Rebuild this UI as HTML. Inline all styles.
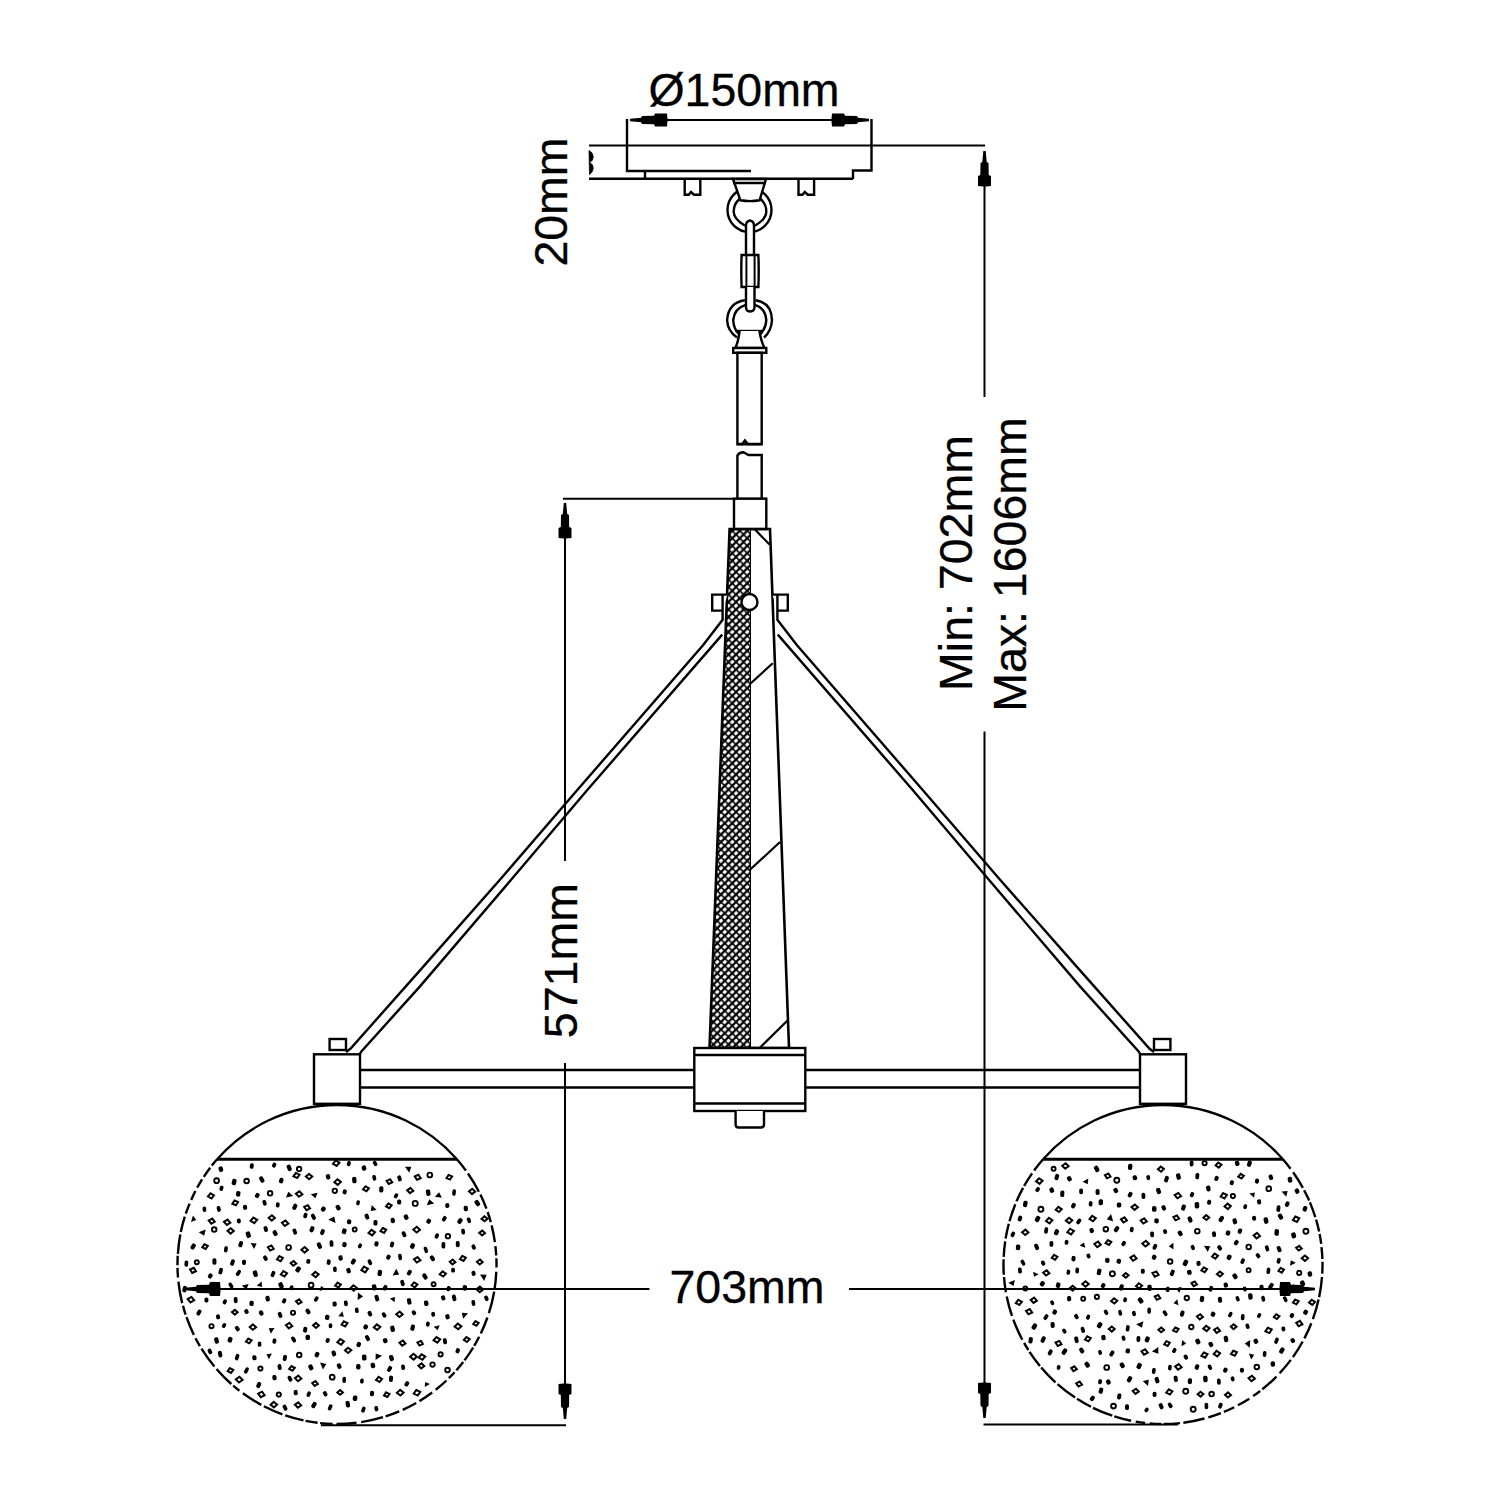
<!DOCTYPE html>
<html><head><meta charset="utf-8"><style>
html,body{margin:0;padding:0;background:#fff;}
svg{display:block;}
text{font-family:"Liberation Sans",sans-serif;font-size:46.5px;fill:#000;stroke:#000;stroke-width:0.3px;}
</style></head><body>
<svg width="1500" height="1500" viewBox="0 0 1500 1500" stroke="#000" fill="none">
<rect x="0" y="0" width="1500" height="1500" fill="#fff" stroke="none"/>
<line x1="589" y1="145.5" x2="985" y2="145.5" stroke-width="2.0"/>
<line x1="589" y1="178.8" x2="853" y2="178.8" stroke-width="2.4"/>
<path d="M627,119 V171 H751" stroke-width="2.4" fill="none" />
<path d="M871.5,119 V170.5 H853 V179" stroke-width="2.4" fill="none" />
<line x1="645" y1="171" x2="645" y2="178.8" stroke-width="2.4"/>
<path d="M589,150.5 L592,153 L593.3,156.5 L592.5,160 L590,162.5 L592.5,165 L593.3,168.5 L592,172 L589.5,174.5 Z" stroke-width="0.8" fill="#000" />
<line x1="632" y1="120" x2="868" y2="120" stroke-width="2.0"/>
<polygon points="630.0,118.8 641.0,117.8 642.0,116.0 654.0,115.8 655.0,113.5 667.0,113.5 667.5,118.5 667.5,121.5 667.0,126.5 655.0,126.5 654.0,124.2 642.0,124.0 641.0,122.2 630.0,121.2" fill="#000" stroke="none"/>
<polygon points="869.0,121.2 858.0,122.2 857.0,124.0 845.0,124.2 844.0,126.5 832.0,126.5 831.5,121.5 831.5,118.5 832.0,113.5 844.0,113.5 845.0,115.8 857.0,116.0 858.0,117.8 869.0,118.8" fill="#000" stroke="none"/>
<path d="M684.7,178.8 V194.7 H688.7 L691.0,192 L694.0,194.7 H700.3 V178.8" stroke-width="2.4" fill="none" />
<path d="M798.5,178.8 V194.7 H802.5 L804.8,192 L807.8,194.7 H814.1 V178.8" stroke-width="2.4" fill="none" />
<circle cx="749.5" cy="210" r="22" stroke-width="2.4" fill="none"/>
<path d="M739.5,199 Q733.5,204 733.7,212 Q734,219 744,225 L750,227.5 L756,225 Q766,219 766.3,212 Q766.5,204 760.5,199" stroke-width="2.4" fill="none"/>
<path d="M733,179 L740.4,200.3 Q750,202 759.6,200.3 L766,179 Z" stroke-width="2.4" fill="#fff" />
<line x1="733" y1="183" x2="766" y2="183" stroke-width="2.4"/>
<path d="M746,256 V226 Q746,221 750,220.5 Q754,221 754,226 V256" stroke-width="2.4" fill="#fff" />
<path d="M736.5,226 Q743,231 750,231 Q757,231 763.5,226" stroke-width="0" fill="none" />
<path d="M741.6,255 Q741,271 741.6,287 H758.4 Q759,271 758.4,255 Z" stroke-width="2.4" fill="#fff" />
<line x1="746.4" y1="255" x2="746.4" y2="287" stroke-width="2.0"/>
<line x1="754.6" y1="255" x2="754.6" y2="287" stroke-width="2.0"/>
<path d="M746,287 V307 Q746,311.5 750,311.5 Q754.5,311.5 754.5,307 V287" stroke-width="2.4" fill="#fff" />
<path d="M744.9,300.3 Q728.5,302.5 727.1,320 Q727.5,331 737,337.6 M755.6,300.3 Q771.5,302.5 772,320 Q771.5,331 764,337.6" stroke-width="2.4" fill="none" />
<path d="M745.8,304.8 Q734.5,308 733.2,320 Q733.5,329 739.7,335 M754.6,304.8 Q765.5,308 766.3,320 Q766,329 759.3,335" stroke-width="2.4" fill="none" />
<line x1="735.5" y1="331" x2="762" y2="331" stroke-width="2.4"/>
<path d="M739.6,331 Q738.5,341 735.4,348 H764.5 Q761,341 759.4,331" stroke-width="2.4" fill="#fff" />
<rect x="733.2" y="348" width="33.1" height="4.8" stroke-width="2.4" fill="#fff"/>
<rect x="737.4" y="352.8" width="24.3" height="91.5" stroke-width="2.4" fill="#fff"/>
<path d="M737.4,444 h5 l2.5,-3.5 l3,3.5 h13.8" stroke-width="2.4" fill="none" />
<path d="M737.4,498.7 V455.5 Q739,452.5 743.5,452.3 L748.5,455 H761.7 V498.7" stroke-width="2.4" fill="#fff" />
<line x1="563" y1="498.7" x2="766" y2="498.7" stroke-width="2.0"/>
<rect x="734" y="498.7" width="32.3" height="30.4" stroke-width="2.4" fill="#fff"/>
<defs><pattern id="kn" patternUnits="userSpaceOnUse" width="7.5" height="7.5" patternTransform="translate(1,2)">
<path d="M-1,-1 L8.5,8.5 M-1,6.5 L1,8.5 M6.5,-1 L8.5,1" stroke="#000" stroke-width="1.6"/><path d="M8.5,-1 L-1,8.5 M-1,1 L1,-1 M6.5,8.5 L8.5,6.5" stroke="#000" stroke-width="2.2"/></pattern></defs>
<polygon points="729.6,529 750.5,529 750.5,1048 709.5,1048" fill="url(#kn)" stroke="none"/>
<polygon points="729.6,529 770,529 789,1048 709.5,1048" fill="none" stroke-width="2.6"/>
<line x1="750.5" y1="529" x2="750.5" y2="1048" stroke-width="1.0"/>
<line x1="754.5" y1="529" x2="769.5" y2="544.5" stroke-width="2.2"/>
<line x1="750" y1="684" x2="772.7" y2="663.3" stroke-width="2.2"/>
<line x1="749.7" y1="870" x2="780" y2="842" stroke-width="2.2"/>
<line x1="759.6" y1="1048" x2="788" y2="1020" stroke-width="2.2"/>
<circle cx="749.5" cy="602" r="8" fill="#fff" stroke-width="2.4"/>
<path d="M727.5,594.6 H712.2 V610.6 H722.6" stroke-width="2.4" fill="#fff" />
<path d="M772.5,594.6 H787.8 V610.6 H777.4" stroke-width="2.4" fill="#fff" />
<path d="M722.6,594.6 L722.6,619.8 L703.2,645.0 L577.3,790.0 L499.7,880.0 L420.0,970.4 L350.4,1048.8 L346.0,1052.0" stroke-width="2.4" fill="none" />
<path d="M722.2,634.6 L587.3,790.0 L510.9,880.0 L420.0,986.4 L361.6,1051.2 L359.5,1054.3" stroke-width="2.4" fill="none" />
<path d="M777.4,594.6 L777.4,619.8 L796.8,645.0 L922.7,790.0 L1000.3,880.0 L1080.0,970.4 L1149.6,1048.8 L1154.0,1052.0" stroke-width="2.4" fill="none" />
<path d="M777.8,634.6 L912.7,790.0 L989.1,880.0 L1080.0,986.4 L1138.4,1051.2 L1140.5,1054.3" stroke-width="2.4" fill="none" />
<line x1="360" y1="1070" x2="694" y2="1070" stroke-width="2.4"/>
<line x1="360" y1="1087.5" x2="694" y2="1087.5" stroke-width="2.4"/>
<line x1="805" y1="1070" x2="1140" y2="1070" stroke-width="2.4"/>
<line x1="805" y1="1087.5" x2="1140" y2="1087.5" stroke-width="2.4"/>
<rect x="694.3" y="1048" width="111" height="63" stroke-width="2.4" fill="#fff"/>
<line x1="694.3" y1="1055" x2="805.3" y2="1055" stroke-width="2.4"/>
<line x1="694.3" y1="1103.5" x2="805.3" y2="1103.5" stroke-width="2.4"/>
<path d="M735.6,1111 V1124.5 q0,3 3,3 H761 q3,0 3,-3 V1111" stroke-width="2.4" fill="#fff" />
<path d="M217.1,1159.3 A159.5,159.5 0 0 1 456.9,1159.3" stroke-width="2.3" fill="none" />
<line x1="217.1" y1="1159.3" x2="456.9" y2="1159.3" stroke-width="3.0"/>
<path d="M456.9,1159.3 A159.5,159.5 0 0 1 465.9,1170.6 M468.0,1173.5 A159.5,159.5 0 0 1 478.9,1191.7 M480.4,1194.6 A159.5,159.5 0 0 1 486.4,1208.6 M487.6,1212.0 A159.5,159.5 0 0 1 490.8,1222.1 M491.6,1225.4 A159.5,159.5 0 0 1 494.9,1242.1 M495.4,1246.2 A159.5,159.5 0 0 1 496.2,1255.5 M496.4,1258.3 A159.5,159.5 0 0 1 496.5,1267.6 M496.3,1271.8 A159.5,159.5 0 0 1 494.5,1289.6 M494.2,1291.6 A159.5,159.5 0 0 1 488.9,1313.1 M487.4,1317.5 A159.5,159.5 0 0 1 480.8,1333.5 M479.2,1336.8 A159.5,159.5 0 0 1 474.2,1345.8 M473.2,1347.5 A159.5,159.5 0 0 1 464.5,1360.4 M463.2,1362.0 A159.5,159.5 0 0 1 456.4,1370.3 M454.6,1372.2 A159.5,159.5 0 0 1 448.8,1378.2 M446.5,1380.5 A159.5,159.5 0 0 1 435.7,1389.8 M432.2,1392.5 A159.5,159.5 0 0 1 419.4,1401.1 M416.2,1403.0 A159.5,159.5 0 0 1 402.7,1409.8 M399.2,1411.4 A159.5,159.5 0 0 1 385.6,1416.4 M383.0,1417.2 A159.5,159.5 0 0 1 361.2,1422.1 M356.5,1422.8 A159.5,159.5 0 0 1 336.5,1424.0 M332.6,1423.9 A159.5,159.5 0 0 1 320.1,1423.1 M317.6,1422.8 A159.5,159.5 0 0 1 305.6,1420.9 M303.5,1420.4 A159.5,159.5 0 0 1 285.2,1415.4 M282.4,1414.3 A159.5,159.5 0 0 1 263.9,1406.3 M261.3,1404.9 A159.5,159.5 0 0 1 242.9,1393.3 M239.4,1390.7 A159.5,159.5 0 0 1 233.2,1385.6 M231.3,1384.0 A159.5,159.5 0 0 1 216.5,1369.0 M214.4,1366.6 A159.5,159.5 0 0 1 201.5,1348.7 M199.9,1346.1 A159.5,159.5 0 0 1 195.5,1338.2 M193.9,1334.9 A159.5,159.5 0 0 1 186.5,1317.2 M185.6,1314.7 A159.5,159.5 0 0 1 183.0,1305.8 M182.2,1303.1 A159.5,159.5 0 0 1 178.4,1281.6 M178.0,1277.5 A159.5,159.5 0 0 1 177.5,1267.9 M177.5,1265.3 A159.5,159.5 0 0 1 177.7,1255.8 M177.9,1253.8 A159.5,159.5 0 0 1 180.3,1234.5 M180.8,1232.1 A159.5,159.5 0 0 1 184.8,1216.7 M185.8,1213.6 A159.5,159.5 0 0 1 189.6,1203.6 M191.2,1199.9 A159.5,159.5 0 0 1 195.4,1191.0 M197.2,1187.7 A159.5,159.5 0 0 1 202.1,1179.4 M203.8,1176.8 A159.5,159.5 0 0 1 210.2,1167.8 M211.8,1165.6 A159.5,159.5 0 0 1 217.1,1159.3" stroke-width="2.4" fill="none" />
<rect x="218.7" y="1166.5" width="4.3" height="5.4" rx="1.7" transform="rotate(-17 220.8 1169.2)" fill="#000" stroke="none"/>
<rect x="249.8" y="1163.2" width="3.9" height="5.6" rx="1.7" transform="rotate(7 251.7 1166.0)" fill="#000" stroke="none"/>
<rect x="272.3" y="1162.6" width="3.7" height="5.1" rx="1.7" transform="rotate(26 274.2 1165.2)" fill="#000" stroke="none"/>
<rect x="287.1" y="1164.6" width="4.2" height="6.5" rx="1.7" transform="rotate(-22 289.3 1167.8)" fill="#000" stroke="none"/>
<circle cx="299.1" cy="1168.9" r="2.2" fill="none" stroke-width="1.9"/>
<path d="M336.2,1160.4 L339.5,1163.2 L336.2,1166.0 L332.9,1163.2 Z" transform="rotate(-9 336.2 1163.2)" fill="none" stroke-width="2"/>
<rect x="347.0" y="1161.0" width="3.6" height="5.2" rx="1.7" transform="rotate(15 348.8 1163.6)" fill="#000" stroke="none"/>
<rect x="361.8" y="1165.5" width="4.4" height="5.2" rx="1.7" transform="rotate(-15 364.0 1168.1)" fill="#000" stroke="none"/>
<rect x="373.3" y="1160.7" width="3.7" height="5.5" rx="1.7" transform="rotate(-31 375.1 1163.5)" fill="#000" stroke="none"/>
<path d="M405.2,1170.6 L408.9,1165.5 L412.6,1170.6 Z" transform="rotate(55 408.9 1168.4)" fill="#000" stroke="none"/>
<circle cx="216.6" cy="1180.7" r="2.4" fill="none" stroke-width="1.9"/>
<rect x="231.9" y="1178.9" width="4.4" height="6.4" rx="1.7" transform="rotate(13 234.1 1182.1)" fill="#000" stroke="none"/>
<circle cx="246.6" cy="1181.1" r="2.3" fill="none" stroke-width="1.9"/>
<rect x="259.7" y="1176.2" width="4.1" height="6.6" rx="1.7" transform="rotate(-29 261.8 1179.4)" fill="#000" stroke="none"/>
<rect x="279.2" y="1177.8" width="4.1" height="5.6" rx="1.7" transform="rotate(16 281.3 1180.6)" fill="#000" stroke="none"/>
<path d="M296.5,1172.8 L299.6,1175.5 L296.5,1178.1 L293.3,1175.5 Z" transform="rotate(-16 296.5 1175.5)" fill="none" stroke-width="2"/>
<path d="M309.1,1173.9 L312.3,1176.6 L309.1,1179.3 L305.9,1176.6 Z" transform="rotate(-0 309.1 1176.6)" fill="none" stroke-width="2"/>
<rect x="326.0" y="1174.2" width="4.2" height="5.2" rx="1.7" transform="rotate(-14 328.1 1176.8)" fill="#000" stroke="none"/>
<path d="M337.6,1179.2 L340.9,1182.0 L337.6,1184.9 L334.3,1182.0 Z" transform="rotate(-2 337.6 1182.0)" fill="none" stroke-width="2"/>
<rect x="352.2" y="1176.9" width="4.3" height="6.4" rx="1.7" transform="rotate(-5 354.4 1180.1)" fill="#000" stroke="none"/>
<rect x="372.5" y="1175.0" width="3.6" height="5.7" rx="1.7" transform="rotate(-13 374.3 1177.9)" fill="#000" stroke="none"/>
<path d="M389.4,1179.1 L392.4,1181.6 L389.4,1184.1 L386.5,1181.6 Z" transform="rotate(16 389.4 1181.6)" fill="none" stroke-width="2"/>
<rect x="397.6" y="1175.4" width="3.9" height="5.9" rx="1.7" transform="rotate(-20 399.6 1178.4)" fill="#000" stroke="none"/>
<path d="M417.7,1174.7 L420.8,1177.3 L417.7,1179.9 L414.6,1177.3 Z" transform="rotate(17 417.7 1177.3)" fill="none" stroke-width="2"/>
<circle cx="429.8" cy="1175.0" r="2.4" fill="none" stroke-width="1.9"/>
<path d="M449.3,1174.8 L452.2,1177.3 L449.3,1179.7 L446.4,1177.3 Z" transform="rotate(-17 449.3 1177.3)" fill="none" stroke-width="2"/>
<path d="M211.0,1193.3 L214.0,1195.9 L211.0,1198.6 L207.9,1195.9 Z" transform="rotate(-11 211.0 1195.9)" fill="none" stroke-width="2"/>
<rect x="219.6" y="1185.7" width="3.7" height="5.3" rx="1.7" transform="rotate(15 221.4 1188.4)" fill="#000" stroke="none"/>
<rect x="236.1" y="1191.1" width="4.3" height="5.5" rx="1.7" transform="rotate(8 238.3 1193.8)" fill="#000" stroke="none"/>
<rect x="255.2" y="1193.0" width="4.2" height="5.0" rx="1.7" transform="rotate(30 257.3 1195.5)" fill="#000" stroke="none"/>
<circle cx="270.1" cy="1193.3" r="2.3" fill="none" stroke-width="1.9"/>
<path d="M285.4,1196.8 L289.0,1191.7 L292.7,1196.8 Z" transform="rotate(-13 289.0 1194.6)" fill="#000" stroke="none"/>
<path d="M299.1,1191.3 L302.4,1194.0 L299.1,1196.8 L295.9,1194.0 Z" transform="rotate(5 299.1 1194.0)" fill="none" stroke-width="2"/>
<path d="M311.2,1197.6 L314.7,1192.6 L318.2,1197.6 Z" transform="rotate(167 314.7 1195.5)" fill="#000" stroke="none"/>
<circle cx="334.8" cy="1190.8" r="2.2" fill="none" stroke-width="1.9"/>
<rect x="342.7" y="1189.4" width="4.0" height="4.9" rx="1.7" transform="rotate(19 344.7 1191.8)" fill="#000" stroke="none"/>
<path d="M366.0,1186.2 L369.0,1188.8 L366.0,1191.3 L363.0,1188.8 Z" transform="rotate(-11 366.0 1188.8)" fill="none" stroke-width="2"/>
<rect x="379.2" y="1186.2" width="4.2" height="6.3" rx="1.7" transform="rotate(1 381.3 1189.4)" fill="#000" stroke="none"/>
<rect x="394.2" y="1193.2" width="3.6" height="5.2" rx="1.7" transform="rotate(31 396.0 1195.8)" fill="#000" stroke="none"/>
<path d="M410.2,1187.9 L413.3,1190.6 L410.2,1193.2 L407.1,1190.6 Z" transform="rotate(5 410.2 1190.6)" fill="none" stroke-width="2"/>
<rect x="426.1" y="1189.5" width="4.3" height="6.4" rx="1.7" transform="rotate(-8 428.2 1192.7)" fill="#000" stroke="none"/>
<path d="M435.1,1197.2 L438.7,1192.2 L442.2,1197.2 Z" transform="rotate(8 438.7 1195.1)" fill="#000" stroke="none"/>
<rect x="452.3" y="1189.3" width="3.5" height="6.5" rx="1.7" transform="rotate(7 454.1 1192.6)" fill="#000" stroke="none"/>
<path d="M472.1,1188.8 L475.2,1191.5 L472.1,1194.1 L469.0,1191.5 Z" transform="rotate(2 472.1 1191.5)" fill="none" stroke-width="2"/>
<rect x="202.6" y="1206.4" width="3.6" height="5.6" rx="1.7" transform="rotate(-2 204.4 1209.1)" fill="#000" stroke="none"/>
<rect x="216.9" y="1206.0" width="3.7" height="5.9" rx="1.7" transform="rotate(-13 218.8 1209.0)" fill="#000" stroke="none"/>
<path d="M235.2,1200.3 L238.1,1202.8 L235.2,1205.3 L232.2,1202.8 Z" transform="rotate(-17 235.2 1202.8)" fill="none" stroke-width="2"/>
<rect x="243.0" y="1204.8" width="4.1" height="5.0" rx="1.7" transform="rotate(-10 245.1 1207.3)" fill="#000" stroke="none"/>
<rect x="262.7" y="1199.9" width="3.7" height="5.8" rx="1.7" transform="rotate(-17 264.6 1202.7)" fill="#000" stroke="none"/>
<rect x="275.9" y="1202.2" width="3.7" height="5.2" rx="1.7" transform="rotate(2 277.7 1204.8)" fill="#000" stroke="none"/>
<rect x="292.7" y="1203.7" width="4.1" height="6.3" rx="1.7" transform="rotate(25 294.8 1206.9)" fill="#000" stroke="none"/>
<path d="M307.1,1205.1 L310.1,1207.7 L307.1,1210.2 L304.1,1207.7 Z" transform="rotate(14 307.1 1207.7)" fill="none" stroke-width="2"/>
<rect x="321.1" y="1206.6" width="4.4" height="5.0" rx="1.7" transform="rotate(35 323.3 1209.1)" fill="#000" stroke="none"/>
<rect x="336.0" y="1204.8" width="4.3" height="5.6" rx="1.7" transform="rotate(-28 338.2 1207.6)" fill="#000" stroke="none"/>
<rect x="356.3" y="1200.2" width="3.5" height="5.2" rx="1.7" transform="rotate(13 358.1 1202.8)" fill="#000" stroke="none"/>
<path d="M369.2,1211.1 L372.7,1206.2 L376.2,1211.1 Z" transform="rotate(-135 372.7 1209.0)" fill="#000" stroke="none"/>
<path d="M388.8,1203.4 L391.7,1205.8 L388.8,1208.2 L386.0,1205.8 Z" transform="rotate(-11 388.8 1205.8)" fill="none" stroke-width="2"/>
<rect x="397.1" y="1199.5" width="4.1" height="5.1" rx="1.7" transform="rotate(1 399.1 1202.1)" fill="#000" stroke="none"/>
<circle cx="415.2" cy="1203.4" r="2.5" fill="none" stroke-width="1.9"/>
<path d="M426.2,1204.5 L430.0,1199.2 L433.8,1204.5 Z" transform="rotate(-13 430.0 1202.3)" fill="#000" stroke="none"/>
<rect x="445.3" y="1203.1" width="4.1" height="4.8" rx="1.7" transform="rotate(-5 447.4 1205.5)" fill="#000" stroke="none"/>
<rect x="463.7" y="1205.7" width="4.2" height="5.5" rx="1.7" transform="rotate(-3 465.9 1208.5)" fill="#000" stroke="none"/>
<rect x="475.1" y="1200.0" width="4.4" height="6.2" rx="1.7" transform="rotate(-34 477.3 1203.1)" fill="#000" stroke="none"/>
<path d="M190.5,1221.2 L193.8,1216.7 L197.1,1221.2 Z" transform="rotate(107 193.8 1219.3)" fill="#000" stroke="none"/>
<path d="M211.8,1218.6 L214.8,1221.2 L211.8,1223.8 L208.7,1221.2 Z" transform="rotate(11 211.8 1221.2)" fill="none" stroke-width="2"/>
<path d="M227.2,1219.5 L230.4,1222.3 L227.2,1225.0 L223.9,1222.3 Z" transform="rotate(9 227.2 1222.3)" fill="none" stroke-width="2"/>
<rect x="236.8" y="1218.6" width="4.0" height="4.8" rx="1.7" transform="rotate(-11 238.7 1221.0)" fill="#000" stroke="none"/>
<path d="M253.8,1217.5 L257.2,1220.3 L253.8,1223.2 L250.5,1220.3 Z" transform="rotate(-9 253.8 1220.3)" fill="none" stroke-width="2"/>
<path d="M271.8,1215.3 L274.9,1217.9 L271.8,1220.6 L268.7,1217.9 Z" transform="rotate(2 271.8 1217.9)" fill="none" stroke-width="2"/>
<path d="M285.1,1220.5 L288.4,1223.2 L285.1,1226.0 L281.9,1223.2 Z" transform="rotate(7 285.1 1223.2)" fill="none" stroke-width="2"/>
<rect x="303.5" y="1212.7" width="3.8" height="5.5" rx="1.7" transform="rotate(17 305.3 1215.4)" fill="#000" stroke="none"/>
<rect x="311.5" y="1213.6" width="3.8" height="6.4" rx="1.7" transform="rotate(-28 313.4 1216.8)" fill="#000" stroke="none"/>
<path d="M328.9,1221.7 L332.9,1216.1 L336.9,1221.7 Z" transform="rotate(24 332.9 1219.3)" fill="#000" stroke="none"/>
<rect x="347.0" y="1219.3" width="4.3" height="4.9" rx="1.7" transform="rotate(7 349.1 1221.7)" fill="#000" stroke="none"/>
<rect x="364.9" y="1213.6" width="4.0" height="5.9" rx="1.7" transform="rotate(-23 366.9 1216.5)" fill="#000" stroke="none"/>
<rect x="373.4" y="1220.1" width="4.1" height="5.5" rx="1.7" transform="rotate(2 375.5 1222.8)" fill="#000" stroke="none"/>
<rect x="390.7" y="1217.8" width="4.2" height="5.3" rx="1.7" transform="rotate(-15 392.8 1220.5)" fill="#000" stroke="none"/>
<rect x="404.0" y="1214.4" width="4.3" height="5.5" rx="1.7" transform="rotate(-24 406.1 1217.2)" fill="#000" stroke="none"/>
<rect x="426.5" y="1218.8" width="4.4" height="4.9" rx="1.7" transform="rotate(34 428.7 1221.2)" fill="#000" stroke="none"/>
<rect x="442.4" y="1215.8" width="3.7" height="5.7" rx="1.7" transform="rotate(33 444.2 1218.7)" fill="#000" stroke="none"/>
<rect x="457.8" y="1218.1" width="4.3" height="5.9" rx="1.7" transform="rotate(34 460.0 1221.0)" fill="#000" stroke="none"/>
<rect x="467.1" y="1217.4" width="3.6" height="5.8" rx="1.7" transform="rotate(-21 468.9 1220.2)" fill="#000" stroke="none"/>
<path d="M484.5,1216.3 L487.5,1218.8 L484.5,1221.3 L481.5,1218.8 Z" transform="rotate(-2 484.5 1218.8)" fill="none" stroke-width="2"/>
<path d="M199.2,1235.2 L203.0,1230.0 L206.7,1235.2 Z" transform="rotate(158 203.0 1233.0)" fill="#000" stroke="none"/>
<circle cx="214.2" cy="1229.6" r="2.3" fill="none" stroke-width="1.9"/>
<path d="M230.6,1228.2 L233.8,1230.9 L230.6,1233.6 L227.5,1230.9 Z" transform="rotate(2 230.6 1230.9)" fill="none" stroke-width="2"/>
<rect x="246.1" y="1231.5" width="4.5" height="6.4" rx="1.7" transform="rotate(-18 248.3 1234.8)" fill="#000" stroke="none"/>
<rect x="263.8" y="1226.1" width="3.9" height="5.9" rx="1.7" transform="rotate(-16 265.8 1229.0)" fill="#000" stroke="none"/>
<rect x="273.0" y="1230.2" width="4.2" height="5.8" rx="1.7" transform="rotate(-29 275.1 1233.1)" fill="#000" stroke="none"/>
<rect x="292.9" y="1228.6" width="3.8" height="6.1" rx="1.7" transform="rotate(-20 294.8 1231.7)" fill="#000" stroke="none"/>
<rect x="309.9" y="1226.2" width="4.1" height="6.2" rx="1.7" transform="rotate(22 312.0 1229.3)" fill="#000" stroke="none"/>
<rect x="320.5" y="1229.1" width="3.9" height="6.0" rx="1.7" transform="rotate(22 322.5 1232.1)" fill="#000" stroke="none"/>
<rect x="342.0" y="1228.5" width="4.4" height="5.6" rx="1.7" transform="rotate(17 344.2 1231.3)" fill="#000" stroke="none"/>
<circle cx="354.7" cy="1229.5" r="2.0" fill="none" stroke-width="1.9"/>
<path d="M371.8,1229.8 L375.0,1232.6 L371.8,1235.4 L368.5,1232.6 Z" transform="rotate(-7 371.8 1232.6)" fill="none" stroke-width="2"/>
<path d="M383.4,1227.9 L386.3,1230.4 L383.4,1233.0 L380.4,1230.4 Z" transform="rotate(-15 383.4 1230.4)" fill="none" stroke-width="2"/>
<rect x="402.1" y="1231.2" width="3.9" height="6.1" rx="1.7" transform="rotate(-25 404.0 1234.3)" fill="#000" stroke="none"/>
<path d="M416.7,1226.8 L420.0,1229.7 L416.7,1232.5 L413.3,1229.7 Z" transform="rotate(2 416.7 1229.7)" fill="none" stroke-width="2"/>
<rect x="434.9" y="1233.3" width="3.8" height="5.4" rx="1.7" transform="rotate(21 436.8 1236.0)" fill="#000" stroke="none"/>
<circle cx="447.9" cy="1236.2" r="2.2" fill="none" stroke-width="1.9"/>
<rect x="461.3" y="1228.7" width="3.7" height="5.8" rx="1.7" transform="rotate(-8 463.2 1231.6)" fill="#000" stroke="none"/>
<path d="M482.1,1230.6 L485.0,1233.0 L482.1,1235.5 L479.2,1233.0 Z" transform="rotate(2 482.1 1233.0)" fill="none" stroke-width="2"/>
<rect x="191.0" y="1243.4" width="4.2" height="6.2" rx="1.7" transform="rotate(33 193.1 1246.6)" fill="#000" stroke="none"/>
<path d="M205.0,1244.2 L207.9,1246.6 L205.0,1249.0 L202.2,1246.6 Z" transform="rotate(-15 205.0 1246.6)" fill="none" stroke-width="2"/>
<rect x="224.1" y="1246.3" width="3.6" height="6.1" rx="1.7" transform="rotate(9 225.9 1249.4)" fill="#000" stroke="none"/>
<rect x="238.7" y="1241.1" width="4.0" height="6.2" rx="1.7" transform="rotate(19 240.7 1244.2)" fill="#000" stroke="none"/>
<path d="M250.7,1247.0 L254.2,1242.1 L257.6,1247.0 Z" transform="rotate(60 254.2 1244.9)" fill="#000" stroke="none"/>
<path d="M270.8,1245.4 L273.8,1248.0 L270.8,1250.6 L267.8,1248.0 Z" transform="rotate(15 270.8 1248.0)" fill="none" stroke-width="2"/>
<circle cx="288.6" cy="1247.5" r="2.4" fill="none" stroke-width="1.9"/>
<path d="M304.6,1247.1 L307.8,1249.9 L304.6,1252.6 L301.4,1249.9 Z" transform="rotate(1 304.6 1249.9)" fill="none" stroke-width="2"/>
<rect x="317.3" y="1242.3" width="4.2" height="6.6" rx="1.7" transform="rotate(-25 319.4 1245.6)" fill="#000" stroke="none"/>
<rect x="329.6" y="1240.3" width="3.8" height="6.5" rx="1.7" transform="rotate(-5 331.5 1243.6)" fill="#000" stroke="none"/>
<rect x="342.3" y="1242.1" width="4.3" height="5.1" rx="1.7" transform="rotate(10 344.5 1244.7)" fill="#000" stroke="none"/>
<rect x="358.2" y="1243.4" width="3.5" height="5.0" rx="1.7" transform="rotate(29 360.0 1245.9)" fill="#000" stroke="none"/>
<rect x="374.4" y="1241.3" width="4.1" height="5.2" rx="1.7" transform="rotate(15 376.5 1243.9)" fill="#000" stroke="none"/>
<rect x="390.1" y="1241.6" width="3.8" height="5.8" rx="1.7" transform="rotate(18 392.0 1244.5)" fill="#000" stroke="none"/>
<rect x="410.3" y="1243.3" width="4.4" height="5.4" rx="1.7" transform="rotate(27 412.5 1246.0)" fill="#000" stroke="none"/>
<rect x="424.1" y="1246.6" width="3.5" height="6.5" rx="1.7" transform="rotate(-20 425.9 1249.9)" fill="#000" stroke="none"/>
<rect x="441.5" y="1242.0" width="3.8" height="6.6" rx="1.7" transform="rotate(1 443.4 1245.3)" fill="#000" stroke="none"/>
<rect x="455.8" y="1241.0" width="3.9" height="6.2" rx="1.7" transform="rotate(-2 457.8 1244.1)" fill="#000" stroke="none"/>
<rect x="471.8" y="1244.4" width="3.8" height="5.3" rx="1.7" transform="rotate(-24 473.7 1247.1)" fill="#000" stroke="none"/>
<rect x="184.5" y="1260.5" width="3.7" height="6.2" rx="1.7" transform="rotate(2 186.3 1263.6)" fill="#000" stroke="none"/>
<circle cx="196.8" cy="1262.3" r="2.0" fill="none" stroke-width="1.9"/>
<rect x="212.4" y="1258.2" width="4.0" height="6.5" rx="1.7" transform="rotate(-1 214.4 1261.4)" fill="#000" stroke="none"/>
<rect x="230.5" y="1259.3" width="3.9" height="6.5" rx="1.7" transform="rotate(20 232.4 1262.6)" fill="#000" stroke="none"/>
<rect x="242.0" y="1259.8" width="4.0" height="5.1" rx="1.7" transform="rotate(3 244.0 1262.3)" fill="#000" stroke="none"/>
<rect x="263.5" y="1255.4" width="3.8" height="5.6" rx="1.7" transform="rotate(-30 265.4 1258.2)" fill="#000" stroke="none"/>
<path d="M280.0,1256.0 L283.0,1258.6 L280.0,1261.2 L276.9,1258.6 Z" transform="rotate(-14 280.0 1258.6)" fill="none" stroke-width="2"/>
<path d="M293.4,1261.0 L296.3,1263.4 L293.4,1265.8 L290.6,1263.4 Z" transform="rotate(5 293.4 1263.4)" fill="none" stroke-width="2"/>
<rect x="306.3" y="1259.0" width="4.0" height="4.8" rx="1.7" transform="rotate(4 308.3 1261.4)" fill="#000" stroke="none"/>
<rect x="326.8" y="1259.4" width="3.8" height="5.5" rx="1.7" transform="rotate(8 328.7 1262.1)" fill="#000" stroke="none"/>
<rect x="338.5" y="1255.4" width="4.2" height="5.3" rx="1.7" transform="rotate(-8 340.6 1258.1)" fill="#000" stroke="none"/>
<rect x="351.3" y="1258.5" width="4.1" height="6.1" rx="1.7" transform="rotate(31 353.3 1261.5)" fill="#000" stroke="none"/>
<rect x="368.1" y="1259.3" width="3.6" height="6.0" rx="1.7" transform="rotate(-25 369.9 1262.3)" fill="#000" stroke="none"/>
<rect x="386.4" y="1254.7" width="4.1" height="5.0" rx="1.7" transform="rotate(24 388.4 1257.1)" fill="#000" stroke="none"/>
<rect x="398.3" y="1253.7" width="3.6" height="6.5" rx="1.7" transform="rotate(-7 400.1 1257.0)" fill="#000" stroke="none"/>
<path d="M417.2,1257.0 L420.5,1259.8 L417.2,1262.6 L413.9,1259.8 Z" transform="rotate(9 417.2 1259.8)" fill="none" stroke-width="2"/>
<rect x="430.4" y="1255.3" width="3.9" height="6.1" rx="1.7" transform="rotate(-34 432.3 1258.3)" fill="#000" stroke="none"/>
<path d="M452.6,1259.6 L455.4,1262.0 L452.6,1264.4 L449.8,1262.0 Z" transform="rotate(4 452.6 1262.0)" fill="none" stroke-width="2"/>
<path d="M462.9,1255.9 L465.9,1258.4 L462.9,1261.0 L459.9,1258.4 Z" transform="rotate(-14 462.9 1258.4)" fill="none" stroke-width="2"/>
<path d="M479.8,1259.5 L482.7,1262.0 L479.8,1264.5 L476.9,1262.0 Z" transform="rotate(4 479.8 1262.0)" fill="none" stroke-width="2"/>
<path d="M193.0,1267.7 L196.1,1270.3 L193.0,1273.0 L189.9,1270.3 Z" transform="rotate(17 193.0 1270.3)" fill="none" stroke-width="2"/>
<rect x="208.2" y="1273.3" width="4.1" height="5.2" rx="1.7" transform="rotate(31 210.2 1275.9)" fill="#000" stroke="none"/>
<rect x="218.8" y="1267.9" width="3.8" height="6.5" rx="1.7" transform="rotate(14 220.7 1271.1)" fill="#000" stroke="none"/>
<rect x="236.6" y="1269.7" width="3.6" height="6.4" rx="1.7" transform="rotate(33 238.4 1272.9)" fill="#000" stroke="none"/>
<rect x="253.1" y="1270.4" width="4.4" height="6.6" rx="1.7" transform="rotate(-16 255.3 1273.7)" fill="#000" stroke="none"/>
<rect x="271.1" y="1270.8" width="3.8" height="6.4" rx="1.7" transform="rotate(23 273.0 1274.0)" fill="#000" stroke="none"/>
<path d="M283.9,1271.1 L287.1,1273.8 L283.9,1276.4 L280.8,1273.8 Z" transform="rotate(-11 283.9 1273.8)" fill="none" stroke-width="2"/>
<rect x="295.9" y="1266.4" width="4.4" height="6.0" rx="1.7" transform="rotate(34 298.1 1269.4)" fill="#000" stroke="none"/>
<path d="M315.5,1271.9 L318.6,1274.5 L315.5,1277.2 L312.3,1274.5 Z" transform="rotate(-4 315.5 1274.5)" fill="none" stroke-width="2"/>
<rect x="333.1" y="1266.6" width="3.6" height="5.5" rx="1.7" transform="rotate(-2 334.9 1269.3)" fill="#000" stroke="none"/>
<rect x="346.5" y="1267.9" width="4.1" height="5.4" rx="1.7" transform="rotate(-17 348.6 1270.6)" fill="#000" stroke="none"/>
<path d="M364.6,1266.6 L368.0,1269.5 L364.6,1272.4 L361.3,1269.5 Z" transform="rotate(-12 364.6 1269.5)" fill="none" stroke-width="2"/>
<rect x="377.7" y="1269.9" width="4.2" height="6.2" rx="1.7" transform="rotate(9 379.8 1272.9)" fill="#000" stroke="none"/>
<path d="M392.7,1275.4 L396.5,1270.0 L400.4,1275.4 Z" transform="rotate(118 396.5 1273.1)" fill="#000" stroke="none"/>
<rect x="407.3" y="1269.8" width="4.0" height="5.7" rx="1.7" transform="rotate(28 409.3 1272.7)" fill="#000" stroke="none"/>
<rect x="422.8" y="1273.2" width="4.2" height="6.4" rx="1.7" transform="rotate(-31 425.0 1276.4)" fill="#000" stroke="none"/>
<path d="M442.9,1271.3 L446.0,1274.0 L442.9,1276.6 L439.7,1274.0 Z" transform="rotate(-7 442.9 1274.0)" fill="none" stroke-width="2"/>
<rect x="451.1" y="1267.7" width="3.9" height="4.9" rx="1.7" transform="rotate(0 453.1 1270.2)" fill="#000" stroke="none"/>
<rect x="471.6" y="1270.8" width="3.9" height="5.2" rx="1.7" transform="rotate(-14 473.6 1273.4)" fill="#000" stroke="none"/>
<path d="M480.2,1278.8 L484.0,1273.4 L487.9,1278.8 Z" transform="rotate(58 484.0 1276.5)" fill="#000" stroke="none"/>
<rect x="182.6" y="1285.9" width="4.1" height="6.4" rx="1.7" transform="rotate(17 184.6 1289.1)" fill="#000" stroke="none"/>
<rect x="195.3" y="1286.6" width="4.5" height="4.8" rx="1.7" transform="rotate(3 197.5 1289.0)" fill="#000" stroke="none"/>
<rect x="212.0" y="1281.9" width="4.4" height="6.3" rx="1.7" transform="rotate(-31 214.2 1285.1)" fill="#000" stroke="none"/>
<rect x="229.2" y="1282.3" width="3.5" height="6.4" rx="1.7" transform="rotate(-32 230.9 1285.5)" fill="#000" stroke="none"/>
<path d="M242.2,1288.7 L245.7,1283.9 L249.2,1288.7 Z" transform="rotate(167 245.7 1286.7)" fill="#000" stroke="none"/>
<path d="M257.2,1286.9 L260.4,1282.5 L263.6,1286.9 Z" transform="rotate(139 260.4 1285.0)" fill="#000" stroke="none"/>
<rect x="278.8" y="1282.2" width="4.4" height="6.6" rx="1.7" transform="rotate(-23 281.0 1285.5)" fill="#000" stroke="none"/>
<rect x="289.6" y="1285.2" width="3.6" height="5.0" rx="1.7" transform="rotate(27 291.4 1287.7)" fill="#000" stroke="none"/>
<circle cx="311.1" cy="1285.2" r="2.4" fill="none" stroke-width="1.9"/>
<path d="M318.8,1290.1 L321.8,1285.8 L324.9,1290.1 Z" transform="rotate(-19 321.8 1288.2)" fill="#000" stroke="none"/>
<path d="M338.0,1282.6 L340.9,1285.1 L338.0,1287.6 L335.1,1285.1 Z" transform="rotate(-11 338.0 1285.1)" fill="none" stroke-width="2"/>
<path d="M353.6,1285.3 L356.8,1288.0 L353.6,1290.7 L350.4,1288.0 Z" transform="rotate(-4 353.6 1288.0)" fill="none" stroke-width="2"/>
<rect x="372.1" y="1284.4" width="4.4" height="6.0" rx="1.7" transform="rotate(-14 374.3 1287.4)" fill="#000" stroke="none"/>
<rect x="383.0" y="1284.9" width="3.9" height="5.8" rx="1.7" transform="rotate(34 385.0 1287.8)" fill="#000" stroke="none"/>
<rect x="400.6" y="1279.9" width="3.8" height="6.2" rx="1.7" transform="rotate(-15 402.5 1283.0)" fill="#000" stroke="none"/>
<path d="M414.4,1282.4 L417.4,1284.9 L414.4,1287.5 L411.5,1284.9 Z" transform="rotate(-9 414.4 1284.9)" fill="none" stroke-width="2"/>
<circle cx="433.6" cy="1284.2" r="2.0" fill="none" stroke-width="1.9"/>
<rect x="446.4" y="1286.1" width="4.0" height="5.1" rx="1.7" transform="rotate(30 448.4 1288.7)" fill="#000" stroke="none"/>
<rect x="462.6" y="1285.0" width="4.3" height="5.7" rx="1.7" transform="rotate(11 464.7 1287.8)" fill="#000" stroke="none"/>
<path d="M479.8,1286.6 L483.2,1289.4 L479.8,1292.3 L476.4,1289.4 Z" transform="rotate(1 479.8 1289.4)" fill="none" stroke-width="2"/>
<path d="M190.9,1296.9 L194.2,1299.7 L190.9,1302.5 L187.6,1299.7 Z" transform="rotate(10 190.9 1299.7)" fill="none" stroke-width="2"/>
<rect x="204.4" y="1297.6" width="4.0" height="4.9" rx="1.7" transform="rotate(6 206.4 1300.1)" fill="#000" stroke="none"/>
<rect x="222.9" y="1299.3" width="3.7" height="5.1" rx="1.7" transform="rotate(26 224.8 1301.9)" fill="#000" stroke="none"/>
<rect x="233.8" y="1297.0" width="3.8" height="6.2" rx="1.7" transform="rotate(-4 235.6 1300.1)" fill="#000" stroke="none"/>
<rect x="249.4" y="1300.8" width="4.3" height="5.2" rx="1.7" transform="rotate(3 251.6 1303.4)" fill="#000" stroke="none"/>
<rect x="265.6" y="1295.8" width="4.1" height="5.7" rx="1.7" transform="rotate(-13 267.7 1298.6)" fill="#000" stroke="none"/>
<rect x="282.3" y="1298.2" width="3.7" height="5.3" rx="1.7" transform="rotate(22 284.1 1300.9)" fill="#000" stroke="none"/>
<path d="M298.8,1299.3 L301.6,1301.7 L298.8,1304.1 L295.9,1301.7 Z" transform="rotate(10 298.8 1301.7)" fill="none" stroke-width="2"/>
<rect x="314.5" y="1296.2" width="3.5" height="5.7" rx="1.7" transform="rotate(33 316.3 1299.1)" fill="#000" stroke="none"/>
<rect x="332.5" y="1301.6" width="4.2" height="4.9" rx="1.7" transform="rotate(-3 334.6 1304.0)" fill="#000" stroke="none"/>
<rect x="344.0" y="1300.5" width="3.8" height="5.6" rx="1.7" transform="rotate(-7 345.9 1303.3)" fill="#000" stroke="none"/>
<path d="M356.4,1298.7 L360.1,1293.4 L363.8,1298.7 Z" transform="rotate(92 360.1 1296.4)" fill="#000" stroke="none"/>
<rect x="374.9" y="1294.9" width="4.0" height="6.5" rx="1.7" transform="rotate(-18 376.8 1298.2)" fill="#000" stroke="none"/>
<path d="M390.4,1300.7 L393.4,1296.4 L396.5,1300.7 Z" transform="rotate(39 393.4 1298.8)" fill="#000" stroke="none"/>
<rect x="407.1" y="1298.2" width="4.2" height="6.4" rx="1.7" transform="rotate(-11 409.2 1301.3)" fill="#000" stroke="none"/>
<rect x="424.1" y="1300.5" width="4.3" height="5.5" rx="1.7" transform="rotate(-7 426.2 1303.2)" fill="#000" stroke="none"/>
<rect x="441.2" y="1295.3" width="4.0" height="5.1" rx="1.7" transform="rotate(-22 443.3 1297.9)" fill="#000" stroke="none"/>
<rect x="452.2" y="1294.6" width="3.9" height="6.6" rx="1.7" transform="rotate(-13 454.1 1297.9)" fill="#000" stroke="none"/>
<rect x="471.6" y="1300.0" width="3.6" height="6.0" rx="1.7" transform="rotate(-8 473.4 1303.1)" fill="#000" stroke="none"/>
<rect x="484.5" y="1295.6" width="3.8" height="5.5" rx="1.7" transform="rotate(-22 486.4 1298.3)" fill="#000" stroke="none"/>
<rect x="197.0" y="1309.4" width="3.9" height="6.2" rx="1.7" transform="rotate(31 198.9 1312.5)" fill="#000" stroke="none"/>
<rect x="216.1" y="1314.4" width="3.9" height="4.9" rx="1.7" transform="rotate(-12 218.0 1316.9)" fill="#000" stroke="none"/>
<path d="M234.8,1309.8 L237.6,1312.2 L234.8,1314.6 L232.0,1312.2 Z" transform="rotate(1 234.8 1312.2)" fill="none" stroke-width="2"/>
<rect x="244.4" y="1309.1" width="4.1" height="4.9" rx="1.7" transform="rotate(-24 246.4 1311.5)" fill="#000" stroke="none"/>
<rect x="259.1" y="1310.4" width="4.2" height="5.3" rx="1.7" transform="rotate(-25 261.2 1313.0)" fill="#000" stroke="none"/>
<rect x="278.2" y="1311.9" width="3.8" height="6.1" rx="1.7" transform="rotate(-21 280.1 1315.0)" fill="#000" stroke="none"/>
<circle cx="293.0" cy="1312.7" r="2.1" fill="none" stroke-width="1.9"/>
<rect x="305.9" y="1308.5" width="4.1" height="5.8" rx="1.7" transform="rotate(-33 308.0 1311.4)" fill="#000" stroke="none"/>
<rect x="325.0" y="1314.8" width="4.4" height="5.2" rx="1.7" transform="rotate(12 327.2 1317.4)" fill="#000" stroke="none"/>
<path d="M338.5,1316.9 L341.8,1312.4 L345.0,1316.9 Z" transform="rotate(129 341.8 1315.0)" fill="#000" stroke="none"/>
<rect x="355.0" y="1307.6" width="3.6" height="5.5" rx="1.7" transform="rotate(-8 356.8 1310.4)" fill="#000" stroke="none"/>
<rect x="367.9" y="1310.8" width="3.9" height="5.7" rx="1.7" transform="rotate(-24 369.9 1313.6)" fill="#000" stroke="none"/>
<rect x="382.2" y="1312.2" width="3.8" height="5.6" rx="1.7" transform="rotate(-28 384.1 1315.0)" fill="#000" stroke="none"/>
<path d="M399.5,1311.6 L402.7,1314.3 L399.5,1317.0 L396.2,1314.3 Z" transform="rotate(2 399.5 1314.3)" fill="none" stroke-width="2"/>
<rect x="412.0" y="1310.3" width="3.9" height="4.9" rx="1.7" transform="rotate(-31 413.9 1312.8)" fill="#000" stroke="none"/>
<rect x="431.3" y="1311.9" width="3.8" height="4.8" rx="1.7" transform="rotate(-12 433.2 1314.3)" fill="#000" stroke="none"/>
<rect x="445.4" y="1314.2" width="4.2" height="5.1" rx="1.7" transform="rotate(-17 447.5 1316.8)" fill="#000" stroke="none"/>
<path d="M460.4,1316.7 L464.0,1311.7 L467.6,1316.7 Z" transform="rotate(-48 464.0 1314.6)" fill="#000" stroke="none"/>
<circle cx="211.5" cy="1326.2" r="2.1" fill="none" stroke-width="1.9"/>
<rect x="222.2" y="1323.0" width="3.6" height="5.1" rx="1.7" transform="rotate(33 224.1 1325.6)" fill="#000" stroke="none"/>
<rect x="235.3" y="1325.8" width="4.0" height="5.5" rx="1.7" transform="rotate(-35 237.3 1328.6)" fill="#000" stroke="none"/>
<path d="M252.9,1324.4 L256.1,1327.1 L252.9,1329.8 L249.7,1327.1 Z" transform="rotate(2 252.9 1327.1)" fill="none" stroke-width="2"/>
<path d="M267.6,1331.8 L271.0,1327.1 L274.3,1331.8 Z" transform="rotate(-58 271.0 1329.8)" fill="#000" stroke="none"/>
<path d="M289.1,1322.9 L292.3,1325.6 L289.1,1328.4 L285.9,1325.6 Z" transform="rotate(7 289.1 1325.6)" fill="none" stroke-width="2"/>
<rect x="303.2" y="1326.8" width="4.0" height="5.8" rx="1.7" transform="rotate(9 305.2 1329.7)" fill="#000" stroke="none"/>
<path d="M316.0,1322.9 L318.9,1325.4 L316.0,1327.9 L313.0,1325.4 Z" transform="rotate(1 316.0 1325.4)" fill="none" stroke-width="2"/>
<rect x="328.7" y="1323.3" width="3.6" height="4.9" rx="1.7" transform="rotate(1 330.5 1325.7)" fill="#000" stroke="none"/>
<path d="M344.5,1321.3 L347.6,1323.9 L344.5,1326.5 L341.5,1323.9 Z" transform="rotate(-14 344.5 1323.9)" fill="none" stroke-width="2"/>
<rect x="363.5" y="1324.5" width="4.4" height="4.9" rx="1.7" transform="rotate(26 365.7 1327.0)" fill="#000" stroke="none"/>
<path d="M377.0,1324.4 L380.3,1327.2 L377.0,1329.9 L373.8,1327.2 Z" transform="rotate(-4 377.0 1327.2)" fill="none" stroke-width="2"/>
<rect x="390.4" y="1325.7" width="4.3" height="6.3" rx="1.7" transform="rotate(-12 392.5 1328.8)" fill="#000" stroke="none"/>
<rect x="410.6" y="1324.5" width="4.1" height="6.3" rx="1.7" transform="rotate(14 412.6 1327.7)" fill="#000" stroke="none"/>
<rect x="426.0" y="1321.6" width="3.7" height="5.1" rx="1.7" transform="rotate(12 427.9 1324.1)" fill="#000" stroke="none"/>
<path d="M434.0,1329.7 L437.1,1325.3 L440.2,1329.7 Z" transform="rotate(165 437.1 1327.8)" fill="#000" stroke="none"/>
<path d="M458.0,1323.6 L461.4,1326.5 L458.0,1329.3 L454.6,1326.5 Z" transform="rotate(-4 458.0 1326.5)" fill="none" stroke-width="2"/>
<path d="M475.9,1321.1 L478.7,1323.5 L475.9,1325.9 L473.1,1323.5 Z" transform="rotate(-13 475.9 1323.5)" fill="none" stroke-width="2"/>
<rect x="214.4" y="1337.3" width="4.3" height="6.3" rx="1.7" transform="rotate(-13 216.6 1340.5)" fill="#000" stroke="none"/>
<rect x="227.8" y="1337.0" width="4.5" height="5.5" rx="1.7" transform="rotate(19 230.0 1339.7)" fill="#000" stroke="none"/>
<path d="M248.8,1338.5 L251.7,1341.0 L248.8,1343.4 L245.9,1341.0 Z" transform="rotate(-12 248.8 1341.0)" fill="none" stroke-width="2"/>
<rect x="257.8" y="1341.4" width="3.6" height="5.4" rx="1.7" transform="rotate(-1 259.6 1344.1)" fill="#000" stroke="none"/>
<rect x="272.5" y="1338.5" width="3.8" height="5.2" rx="1.7" transform="rotate(9 274.4 1341.1)" fill="#000" stroke="none"/>
<rect x="291.8" y="1336.3" width="3.6" height="6.4" rx="1.7" transform="rotate(-31 293.6 1339.5)" fill="#000" stroke="none"/>
<rect x="305.5" y="1334.7" width="4.5" height="5.2" rx="1.7" transform="rotate(-1 307.7 1337.2)" fill="#000" stroke="none"/>
<rect x="325.7" y="1338.0" width="3.9" height="4.9" rx="1.7" transform="rotate(21 327.7 1340.5)" fill="#000" stroke="none"/>
<path d="M340.7,1339.0 L344.0,1341.9 L340.7,1344.7 L337.3,1341.9 Z" transform="rotate(-8 340.7 1341.9)" fill="none" stroke-width="2"/>
<rect x="356.6" y="1342.0" width="4.2" height="5.1" rx="1.7" transform="rotate(23 358.7 1344.6)" fill="#000" stroke="none"/>
<rect x="365.5" y="1334.9" width="3.9" height="6.2" rx="1.7" transform="rotate(-30 367.5 1338.0)" fill="#000" stroke="none"/>
<rect x="383.0" y="1338.3" width="4.5" height="4.8" rx="1.7" transform="rotate(-20 385.2 1340.7)" fill="#000" stroke="none"/>
<path d="M402.5,1340.5 L405.5,1343.1 L402.5,1345.7 L399.4,1343.1 Z" transform="rotate(8 402.5 1343.1)" fill="none" stroke-width="2"/>
<path d="M420.2,1340.8 L423.0,1343.2 L420.2,1345.7 L417.3,1343.2 Z" transform="rotate(17 420.2 1343.2)" fill="none" stroke-width="2"/>
<path d="M436.9,1337.0 L440.2,1339.8 L436.9,1342.7 L433.5,1339.8 Z" transform="rotate(-9 436.9 1339.8)" fill="none" stroke-width="2"/>
<rect x="443.0" y="1338.2" width="3.9" height="6.0" rx="1.7" transform="rotate(-8 444.9 1341.2)" fill="#000" stroke="none"/>
<path d="M466.7,1337.0 L469.7,1339.5 L466.7,1342.0 L463.8,1339.5 Z" transform="rotate(-5 466.7 1339.5)" fill="none" stroke-width="2"/>
<rect x="208.0" y="1348.7" width="3.9" height="5.6" rx="1.7" transform="rotate(-25 209.9 1351.5)" fill="#000" stroke="none"/>
<rect x="218.1" y="1350.9" width="4.0" height="6.5" rx="1.7" transform="rotate(-12 220.1 1354.1)" fill="#000" stroke="none"/>
<rect x="235.3" y="1353.8" width="3.6" height="6.6" rx="1.7" transform="rotate(18 237.1 1357.1)" fill="#000" stroke="none"/>
<rect x="252.3" y="1355.2" width="4.2" height="5.1" rx="1.7" transform="rotate(-6 254.4 1357.8)" fill="#000" stroke="none"/>
<path d="M265.5,1357.4 L268.7,1353.0 L271.9,1357.4 Z" transform="rotate(-62 268.7 1355.5)" fill="#000" stroke="none"/>
<rect x="282.9" y="1355.0" width="3.9" height="6.0" rx="1.7" transform="rotate(9 284.9 1358.0)" fill="#000" stroke="none"/>
<circle cx="299.2" cy="1355.0" r="2.3" fill="none" stroke-width="1.9"/>
<rect x="314.9" y="1351.8" width="4.2" height="5.6" rx="1.7" transform="rotate(24 317.0 1354.6)" fill="#000" stroke="none"/>
<rect x="331.8" y="1350.5" width="4.1" height="5.8" rx="1.7" transform="rotate(-19 333.8 1353.4)" fill="#000" stroke="none"/>
<path d="M348.1,1347.7 L351.3,1350.3 L348.1,1353.0 L345.0,1350.3 Z" transform="rotate(-2 348.1 1350.3)" fill="none" stroke-width="2"/>
<rect x="362.0" y="1354.5" width="4.5" height="6.1" rx="1.7" transform="rotate(-2 364.3 1357.5)" fill="#000" stroke="none"/>
<path d="M373.6,1358.3 L377.5,1352.9 L381.4,1358.3 Z" transform="rotate(-34 377.5 1356.0)" fill="#000" stroke="none"/>
<rect x="389.3" y="1355.0" width="4.3" height="6.0" rx="1.7" transform="rotate(-19 391.5 1358.0)" fill="#000" stroke="none"/>
<path d="M413.5,1353.8 L416.9,1356.7 L413.5,1359.6 L410.1,1356.7 Z" transform="rotate(0 413.5 1356.7)" fill="none" stroke-width="2"/>
<path d="M422.0,1354.3 L425.3,1357.1 L422.0,1359.8 L418.7,1357.1 Z" transform="rotate(-9 422.0 1357.1)" fill="none" stroke-width="2"/>
<circle cx="440.6" cy="1354.4" r="2.1" fill="none" stroke-width="1.9"/>
<rect x="455.7" y="1348.1" width="4.0" height="5.2" rx="1.7" transform="rotate(20 457.6 1350.7)" fill="#000" stroke="none"/>
<path d="M230.5,1368.0 L233.4,1370.5 L230.5,1373.0 L227.6,1370.5 Z" transform="rotate(-13 230.5 1370.5)" fill="none" stroke-width="2"/>
<rect x="244.6" y="1367.1" width="3.6" height="6.6" rx="1.7" transform="rotate(28 246.4 1370.4)" fill="#000" stroke="none"/>
<circle cx="260.4" cy="1368.6" r="2.1" fill="none" stroke-width="1.9"/>
<rect x="277.7" y="1364.1" width="3.8" height="5.9" rx="1.7" transform="rotate(-11 279.6 1367.0)" fill="#000" stroke="none"/>
<path d="M292.0,1366.0 L294.9,1368.4 L292.0,1370.8 L289.1,1368.4 Z" transform="rotate(-11 292.0 1368.4)" fill="none" stroke-width="2"/>
<rect x="308.6" y="1364.4" width="4.4" height="5.9" rx="1.7" transform="rotate(-27 310.8 1367.3)" fill="#000" stroke="none"/>
<path d="M319.9,1367.4 L323.6,1362.2 L327.3,1367.4 Z" transform="rotate(67 323.6 1365.1)" fill="#000" stroke="none"/>
<rect x="337.1" y="1363.3" width="4.1" height="5.6" rx="1.7" transform="rotate(-25 339.1 1366.1)" fill="#000" stroke="none"/>
<rect x="356.1" y="1364.1" width="4.4" height="5.4" rx="1.7" transform="rotate(0 358.3 1366.8)" fill="#000" stroke="none"/>
<rect x="370.7" y="1362.8" width="4.4" height="5.3" rx="1.7" transform="rotate(-15 372.9 1365.5)" fill="#000" stroke="none"/>
<rect x="387.6" y="1365.9" width="3.9" height="6.1" rx="1.7" transform="rotate(30 389.6 1369.0)" fill="#000" stroke="none"/>
<rect x="401.2" y="1364.4" width="3.8" height="5.6" rx="1.7" transform="rotate(-6 403.1 1367.2)" fill="#000" stroke="none"/>
<path d="M421.4,1363.4 L424.3,1365.9 L421.4,1368.4 L418.4,1365.9 Z" transform="rotate(6 421.4 1365.9)" fill="none" stroke-width="2"/>
<circle cx="432.5" cy="1364.6" r="2.2" fill="none" stroke-width="1.9"/>
<circle cx="447.5" cy="1370.1" r="2.3" fill="none" stroke-width="1.9"/>
<path d="M239.2,1376.7 L242.6,1379.6 L239.2,1382.5 L235.8,1379.6 Z" transform="rotate(4 239.2 1379.6)" fill="none" stroke-width="2"/>
<rect x="256.7" y="1382.0" width="4.1" height="6.1" rx="1.7" transform="rotate(23 258.8 1385.0)" fill="#000" stroke="none"/>
<rect x="272.4" y="1375.0" width="4.2" height="5.2" rx="1.7" transform="rotate(-7 274.5 1377.6)" fill="#000" stroke="none"/>
<rect x="288.0" y="1375.7" width="3.9" height="6.1" rx="1.7" transform="rotate(-25 289.9 1378.7)" fill="#000" stroke="none"/>
<path d="M298.2,1375.6 L301.4,1378.4 L298.2,1381.2 L294.9,1378.4 Z" transform="rotate(4 298.2 1378.4)" fill="none" stroke-width="2"/>
<path d="M315.0,1381.1 L317.9,1383.5 L315.0,1386.0 L312.2,1383.5 Z" transform="rotate(10 315.0 1383.5)" fill="none" stroke-width="2"/>
<circle cx="332.2" cy="1377.2" r="2.4" fill="none" stroke-width="1.9"/>
<rect x="342.4" y="1376.8" width="3.6" height="6.2" rx="1.7" transform="rotate(2 344.2 1379.9)" fill="#000" stroke="none"/>
<rect x="360.1" y="1378.6" width="3.6" height="5.0" rx="1.7" transform="rotate(5 361.9 1381.1)" fill="#000" stroke="none"/>
<path d="M379.1,1376.8 L382.1,1379.4 L379.1,1382.0 L376.0,1379.4 Z" transform="rotate(-9 379.1 1379.4)" fill="none" stroke-width="2"/>
<rect x="389.0" y="1375.6" width="4.0" height="6.3" rx="1.7" transform="rotate(4 390.9 1378.8)" fill="#000" stroke="none"/>
<rect x="404.8" y="1381.1" width="4.0" height="5.5" rx="1.7" transform="rotate(33 406.8 1383.9)" fill="#000" stroke="none"/>
<path d="M423.4,1385.8 L426.4,1381.6 L429.4,1385.8 Z" transform="rotate(-30 426.4 1384.0)" fill="#000" stroke="none"/>
<path d="M261.4,1391.6 L264.7,1394.5 L261.4,1397.3 L258.0,1394.5 Z" transform="rotate(14 261.4 1394.5)" fill="none" stroke-width="2"/>
<circle cx="278.8" cy="1394.6" r="2.1" fill="none" stroke-width="1.9"/>
<rect x="293.7" y="1389.9" width="4.0" height="5.4" rx="1.7" transform="rotate(-5 295.7 1392.6)" fill="#000" stroke="none"/>
<rect x="306.9" y="1391.3" width="3.6" height="5.8" rx="1.7" transform="rotate(23 308.7 1394.2)" fill="#000" stroke="none"/>
<rect x="323.2" y="1391.1" width="3.9" height="5.4" rx="1.7" transform="rotate(-28 325.1 1393.7)" fill="#000" stroke="none"/>
<path d="M340.1,1390.0 L342.9,1392.4 L340.1,1394.8 L337.3,1392.4 Z" transform="rotate(-0 340.1 1392.4)" fill="none" stroke-width="2"/>
<rect x="352.8" y="1395.5" width="4.5" height="5.5" rx="1.7" transform="rotate(7 355.0 1398.3)" fill="#000" stroke="none"/>
<rect x="370.0" y="1390.8" width="4.1" height="5.4" rx="1.7" transform="rotate(8 372.0 1393.5)" fill="#000" stroke="none"/>
<path d="M386.7,1392.2 L389.6,1394.7 L386.7,1397.1 L383.9,1394.7 Z" transform="rotate(-16 386.7 1394.7)" fill="none" stroke-width="2"/>
<path d="M400.3,1389.9 L403.6,1392.7 L400.3,1395.5 L396.9,1392.7 Z" transform="rotate(-3 400.3 1392.7)" fill="none" stroke-width="2"/>
<path d="M417.0,1389.9 L420.4,1392.8 L417.0,1395.7 L413.6,1392.8 Z" transform="rotate(-15 417.0 1392.8)" fill="none" stroke-width="2"/>
<path d="M273.8,1401.9 L277.1,1404.6 L273.8,1407.4 L270.6,1404.6 Z" transform="rotate(-2 273.8 1404.6)" fill="none" stroke-width="2"/>
<rect x="283.1" y="1404.6" width="3.8" height="6.1" rx="1.7" transform="rotate(-27 285.0 1407.6)" fill="#000" stroke="none"/>
<path d="M298.1,1402.3 L301.2,1405.0 L298.1,1407.6 L294.9,1405.0 Z" transform="rotate(6 298.1 1405.0)" fill="none" stroke-width="2"/>
<rect x="311.9" y="1401.7" width="4.1" height="6.5" rx="1.7" transform="rotate(32 313.9 1405.0)" fill="#000" stroke="none"/>
<rect x="328.4" y="1404.2" width="3.6" height="6.4" rx="1.7" transform="rotate(24 330.2 1407.3)" fill="#000" stroke="none"/>
<rect x="345.7" y="1401.0" width="4.2" height="6.5" rx="1.7" transform="rotate(-9 347.8 1404.3)" fill="#000" stroke="none"/>
<rect x="361.6" y="1406.5" width="3.6" height="6.1" rx="1.7" transform="rotate(20 363.4 1409.5)" fill="#000" stroke="none"/>
<rect x="374.5" y="1406.0" width="3.7" height="5.4" rx="1.7" transform="rotate(-11 376.3 1408.7)" fill="#000" stroke="none"/>
<path d="M1043.1,1159.3 A159.5,159.5 0 0 1 1282.9,1159.3" stroke-width="2.3" fill="none" />
<line x1="1043.1" y1="1159.3" x2="1282.9" y2="1159.3" stroke-width="3.0"/>
<path d="M1282.9,1159.3 A159.5,159.5 0 0 1 1290.5,1168.7 M1293.1,1172.3 A159.5,159.5 0 0 1 1302.9,1187.9 M1304.1,1190.2 A159.5,159.5 0 0 1 1309.2,1200.6 M1309.9,1202.4 A159.5,159.5 0 0 1 1315.3,1217.2 M1316.1,1219.7 A159.5,159.5 0 0 1 1319.1,1231.5 M1319.6,1234.1 A159.5,159.5 0 0 1 1321.2,1243.8 M1321.5,1247.1 A159.5,159.5 0 0 1 1322.4,1259.0 M1322.5,1261.7 A159.5,159.5 0 0 1 1322.2,1273.7 M1322.0,1277.0 A159.5,159.5 0 0 1 1319.1,1297.3 M1318.6,1299.6 A159.5,159.5 0 0 1 1312.9,1319.1 M1311.3,1323.2 A159.5,159.5 0 0 1 1304.4,1338.4 M1302.7,1341.5 A159.5,159.5 0 0 1 1292.9,1357.1 M1290.8,1359.9 A159.5,159.5 0 0 1 1279.6,1373.3 M1276.5,1376.6 A159.5,159.5 0 0 1 1262.3,1389.3 M1260.2,1391.0 A159.5,159.5 0 0 1 1253.1,1396.1 M1249.3,1398.7 A159.5,159.5 0 0 1 1237.9,1405.3 M1234.2,1407.2 A159.5,159.5 0 0 1 1223.9,1411.9 M1220.9,1413.1 A159.5,159.5 0 0 1 1208.3,1417.4 M1204.5,1418.5 A159.5,159.5 0 0 1 1183.4,1422.7 M1180.0,1423.1 A159.5,159.5 0 0 1 1164.0,1424.0 M1161.1,1424.0 A159.5,159.5 0 0 1 1149.8,1423.4 M1145.1,1423.0 A159.5,159.5 0 0 1 1135.7,1421.6 M1131.1,1420.8 A159.5,159.5 0 0 1 1114.3,1416.4 M1112.3,1415.7 A159.5,159.5 0 0 1 1093.0,1407.8 M1091.0,1406.8 A159.5,159.5 0 0 1 1077.0,1398.8 M1075.1,1397.6 A159.5,159.5 0 0 1 1057.5,1384.1 M1055.4,1382.3 A159.5,159.5 0 0 1 1041.2,1367.5 M1039.9,1365.9 A159.5,159.5 0 0 1 1029.5,1351.8 M1028.4,1350.0 A159.5,159.5 0 0 1 1024.1,1342.8 M1022.3,1339.7 A159.5,159.5 0 0 1 1013.3,1319.6 M1012.0,1315.9 A159.5,159.5 0 0 1 1006.7,1296.4 M1005.9,1292.3 A159.5,159.5 0 0 1 1004.0,1277.0 M1003.8,1274.8 A159.5,159.5 0 0 1 1003.6,1259.3 M1003.7,1256.9 A159.5,159.5 0 0 1 1005.2,1241.4 M1005.6,1238.5 A159.5,159.5 0 0 1 1008.8,1223.7 M1009.5,1221.3 A159.5,159.5 0 0 1 1015.3,1204.2 M1016.5,1201.3 A159.5,159.5 0 0 1 1023.1,1187.9 M1024.1,1186.0 A159.5,159.5 0 0 1 1032.1,1173.4 M1034.1,1170.5 A159.5,159.5 0 0 1 1043.1,1159.3" stroke-width="2.4" fill="none" />
<circle cx="1053.6" cy="1168.7" r="2.0" fill="none" stroke-width="1.9"/>
<path d="M1065.4,1163.3 L1068.6,1166.0 L1065.4,1168.7 L1062.2,1166.0 Z" transform="rotate(4 1065.4 1166.0)" fill="none" stroke-width="2"/>
<rect x="1094.5" y="1165.7" width="4.4" height="6.5" rx="1.7" transform="rotate(-27 1096.7 1169.0)" fill="#000" stroke="none"/>
<rect x="1128.0" y="1163.7" width="4.3" height="6.3" rx="1.7" transform="rotate(6 1130.1 1166.8)" fill="#000" stroke="none"/>
<path d="M1160.9,1166.6 L1163.9,1169.1 L1160.9,1171.7 L1157.9,1169.1 Z" transform="rotate(-3 1160.9 1169.1)" fill="none" stroke-width="2"/>
<rect x="1189.7" y="1160.4" width="3.8" height="6.0" rx="1.7" transform="rotate(2 1191.7 1163.4)" fill="#000" stroke="none"/>
<circle cx="1204.6" cy="1163.2" r="2.1" fill="none" stroke-width="1.9"/>
<path d="M1218.5,1162.6 L1221.5,1165.1 L1218.5,1167.6 L1215.6,1165.1 Z" transform="rotate(-6 1218.5 1165.1)" fill="none" stroke-width="2"/>
<rect x="1235.0" y="1160.8" width="4.4" height="5.1" rx="1.7" transform="rotate(-17 1237.2 1163.4)" fill="#000" stroke="none"/>
<rect x="1247.3" y="1160.6" width="4.2" height="6.2" rx="1.7" transform="rotate(16 1249.4 1163.7)" fill="#000" stroke="none"/>
<path d="M1039.3,1178.3 L1042.6,1181.1 L1039.3,1183.9 L1036.1,1181.1 Z" transform="rotate(-6 1039.3 1181.1)" fill="none" stroke-width="2"/>
<rect x="1054.8" y="1173.9" width="4.0" height="6.3" rx="1.7" transform="rotate(17 1056.8 1177.1)" fill="#000" stroke="none"/>
<rect x="1067.2" y="1176.2" width="4.4" height="5.1" rx="1.7" transform="rotate(-30 1069.4 1178.8)" fill="#000" stroke="none"/>
<path d="M1083.1,1183.8 L1086.4,1179.1 L1089.7,1183.8 Z" transform="rotate(151 1086.4 1181.8)" fill="#000" stroke="none"/>
<path d="M1107.7,1173.4 L1110.6,1175.9 L1107.7,1178.4 L1104.8,1175.9 Z" transform="rotate(16 1107.7 1175.9)" fill="none" stroke-width="2"/>
<circle cx="1116.8" cy="1180.2" r="2.5" fill="none" stroke-width="1.9"/>
<rect x="1132.7" y="1175.3" width="4.4" height="4.9" rx="1.7" transform="rotate(-16 1134.9 1177.8)" fill="#000" stroke="none"/>
<rect x="1146.4" y="1175.1" width="3.7" height="5.0" rx="1.7" transform="rotate(-14 1148.2 1177.6)" fill="#000" stroke="none"/>
<rect x="1164.5" y="1175.9" width="4.0" height="6.5" rx="1.7" transform="rotate(18 1166.5 1179.1)" fill="#000" stroke="none"/>
<rect x="1176.3" y="1173.3" width="4.3" height="6.5" rx="1.7" transform="rotate(-13 1178.4 1176.6)" fill="#000" stroke="none"/>
<rect x="1195.4" y="1173.0" width="3.8" height="6.2" rx="1.7" transform="rotate(5 1197.3 1176.1)" fill="#000" stroke="none"/>
<rect x="1214.5" y="1175.9" width="4.0" height="5.1" rx="1.7" transform="rotate(24 1216.5 1178.5)" fill="#000" stroke="none"/>
<rect x="1229.9" y="1180.2" width="3.9" height="4.9" rx="1.7" transform="rotate(18 1231.8 1182.6)" fill="#000" stroke="none"/>
<path d="M1241.1,1173.8 L1243.9,1176.2 L1241.1,1178.6 L1238.2,1176.2 Z" transform="rotate(-10 1241.1 1176.2)" fill="none" stroke-width="2"/>
<rect x="1255.0" y="1178.6" width="4.0" height="5.1" rx="1.7" transform="rotate(11 1257.0 1181.2)" fill="#000" stroke="none"/>
<rect x="1268.8" y="1174.5" width="4.1" height="5.5" rx="1.7" transform="rotate(-17 1270.9 1177.2)" fill="#000" stroke="none"/>
<rect x="1287.8" y="1176.9" width="4.4" height="5.8" rx="1.7" transform="rotate(-10 1290.0 1179.8)" fill="#000" stroke="none"/>
<rect x="1035.7" y="1187.0" width="3.8" height="5.1" rx="1.7" transform="rotate(34 1037.6 1189.6)" fill="#000" stroke="none"/>
<rect x="1049.6" y="1187.5" width="4.4" height="5.3" rx="1.7" transform="rotate(-24 1051.8 1190.2)" fill="#000" stroke="none"/>
<rect x="1060.3" y="1190.5" width="4.0" height="6.5" rx="1.7" transform="rotate(4 1062.3 1193.8)" fill="#000" stroke="none"/>
<rect x="1079.2" y="1188.4" width="3.8" height="5.8" rx="1.7" transform="rotate(-0 1081.1 1191.3)" fill="#000" stroke="none"/>
<rect x="1095.6" y="1189.0" width="4.0" height="6.0" rx="1.7" transform="rotate(-0 1097.6 1192.0)" fill="#000" stroke="none"/>
<rect x="1113.6" y="1187.9" width="4.3" height="5.2" rx="1.7" transform="rotate(-29 1115.8 1190.5)" fill="#000" stroke="none"/>
<rect x="1128.1" y="1191.9" width="4.0" height="5.6" rx="1.7" transform="rotate(28 1130.1 1194.7)" fill="#000" stroke="none"/>
<rect x="1141.5" y="1192.7" width="3.8" height="6.3" rx="1.7" transform="rotate(-1 1143.4 1195.8)" fill="#000" stroke="none"/>
<rect x="1156.4" y="1187.9" width="4.3" height="6.2" rx="1.7" transform="rotate(-20 1158.5 1191.0)" fill="#000" stroke="none"/>
<path d="M1177.8,1192.9 L1181.1,1195.6 L1177.8,1198.3 L1174.6,1195.6 Z" transform="rotate(10 1177.8 1195.6)" fill="none" stroke-width="2"/>
<rect x="1190.1" y="1192.1" width="3.8" height="5.2" rx="1.7" transform="rotate(22 1192.0 1194.7)" fill="#000" stroke="none"/>
<rect x="1206.2" y="1185.5" width="4.3" height="5.9" rx="1.7" transform="rotate(-11 1208.4 1188.5)" fill="#000" stroke="none"/>
<path d="M1223.8,1193.0 L1227.0,1195.7 L1223.8,1198.5 L1220.6,1195.7 Z" transform="rotate(-15 1223.8 1195.7)" fill="none" stroke-width="2"/>
<circle cx="1232.9" cy="1196.1" r="2.1" fill="none" stroke-width="1.9"/>
<path d="M1249.9,1196.2 L1253.1,1191.8 L1256.2,1196.2 Z" transform="rotate(43 1253.1 1194.3)" fill="#000" stroke="none"/>
<circle cx="1268.8" cy="1188.7" r="2.4" fill="none" stroke-width="1.9"/>
<path d="M1282.0,1194.9 L1285.5,1190.0 L1289.0,1194.9 Z" transform="rotate(49 1285.5 1192.8)" fill="#000" stroke="none"/>
<rect x="1294.9" y="1188.5" width="4.3" height="5.2" rx="1.7" transform="rotate(-24 1297.1 1191.1)" fill="#000" stroke="none"/>
<rect x="1023.2" y="1200.7" width="4.2" height="6.5" rx="1.7" transform="rotate(10 1025.3 1203.9)" fill="#000" stroke="none"/>
<circle cx="1040.9" cy="1209.2" r="2.5" fill="none" stroke-width="1.9"/>
<path d="M1058.7,1206.9 L1061.7,1209.5 L1058.7,1212.0 L1055.7,1209.5 Z" transform="rotate(-6 1058.7 1209.5)" fill="none" stroke-width="2"/>
<rect x="1071.4" y="1202.8" width="4.0" height="5.7" rx="1.7" transform="rotate(25 1073.4 1205.7)" fill="#000" stroke="none"/>
<rect x="1088.8" y="1201.1" width="3.7" height="5.4" rx="1.7" transform="rotate(6 1090.7 1203.8)" fill="#000" stroke="none"/>
<rect x="1098.6" y="1199.2" width="4.4" height="6.0" rx="1.7" transform="rotate(2 1100.8 1202.2)" fill="#000" stroke="none"/>
<rect x="1116.8" y="1202.5" width="4.5" height="5.0" rx="1.7" transform="rotate(-2 1119.1 1205.0)" fill="#000" stroke="none"/>
<path d="M1134.7,1204.5 L1137.9,1207.2 L1134.7,1209.9 L1131.5,1207.2 Z" transform="rotate(2 1134.7 1207.2)" fill="none" stroke-width="2"/>
<rect x="1152.0" y="1206.1" width="4.5" height="5.7" rx="1.7" transform="rotate(3 1154.3 1209.0)" fill="#000" stroke="none"/>
<rect x="1161.7" y="1205.2" width="4.1" height="5.3" rx="1.7" transform="rotate(-24 1163.8 1207.9)" fill="#000" stroke="none"/>
<rect x="1181.4" y="1204.5" width="4.1" height="6.1" rx="1.7" transform="rotate(19 1183.5 1207.6)" fill="#000" stroke="none"/>
<rect x="1194.7" y="1202.0" width="4.5" height="6.4" rx="1.7" transform="rotate(-2 1196.9 1205.2)" fill="#000" stroke="none"/>
<rect x="1207.2" y="1199.8" width="3.9" height="5.0" rx="1.7" transform="rotate(14 1209.2 1202.3)" fill="#000" stroke="none"/>
<path d="M1227.7,1203.6 L1230.8,1206.3 L1227.7,1209.1 L1224.5,1206.3 Z" transform="rotate(-3 1227.7 1206.3)" fill="none" stroke-width="2"/>
<rect x="1243.4" y="1204.2" width="3.6" height="4.9" rx="1.7" transform="rotate(15 1245.2 1206.7)" fill="#000" stroke="none"/>
<rect x="1257.1" y="1199.4" width="4.0" height="5.0" rx="1.7" transform="rotate(-8 1259.0 1201.9)" fill="#000" stroke="none"/>
<rect x="1276.5" y="1205.3" width="3.8" height="6.6" rx="1.7" transform="rotate(6 1278.4 1208.6)" fill="#000" stroke="none"/>
<rect x="1285.2" y="1201.4" width="4.0" height="5.5" rx="1.7" transform="rotate(26 1287.2 1204.2)" fill="#000" stroke="none"/>
<rect x="1302.8" y="1206.0" width="4.2" height="5.6" rx="1.7" transform="rotate(20 1304.9 1208.9)" fill="#000" stroke="none"/>
<rect x="1018.0" y="1215.7" width="4.0" height="5.7" rx="1.7" transform="rotate(19 1020.0 1218.5)" fill="#000" stroke="none"/>
<rect x="1035.3" y="1215.8" width="4.5" height="6.2" rx="1.7" transform="rotate(28 1037.5 1218.9)" fill="#000" stroke="none"/>
<path d="M1049.2,1217.9 L1052.4,1220.6 L1049.2,1223.4 L1046.0,1220.6 Z" transform="rotate(-7 1049.2 1220.6)" fill="none" stroke-width="2"/>
<path d="M1069.1,1217.8 L1072.3,1220.5 L1069.1,1223.2 L1065.9,1220.5 Z" transform="rotate(-2 1069.1 1220.5)" fill="none" stroke-width="2"/>
<rect x="1076.9" y="1218.4" width="3.8" height="6.1" rx="1.7" transform="rotate(34 1078.8 1221.4)" fill="#000" stroke="none"/>
<path d="M1092.6,1215.9 L1095.8,1218.6 L1092.6,1221.3 L1089.5,1218.6 Z" transform="rotate(-8 1092.6 1218.6)" fill="none" stroke-width="2"/>
<path d="M1105.9,1220.8 L1109.8,1215.3 L1113.7,1220.8 Z" transform="rotate(-106 1109.8 1218.4)" fill="#000" stroke="none"/>
<path d="M1124.0,1217.3 L1127.0,1219.9 L1124.0,1222.5 L1120.9,1219.9 Z" transform="rotate(12 1124.0 1219.9)" fill="none" stroke-width="2"/>
<path d="M1143.7,1218.3 L1146.9,1220.9 L1143.7,1223.6 L1140.6,1220.9 Z" transform="rotate(9 1143.7 1220.9)" fill="none" stroke-width="2"/>
<rect x="1154.3" y="1218.4" width="4.5" height="5.0" rx="1.7" transform="rotate(3 1156.5 1220.9)" fill="#000" stroke="none"/>
<path d="M1176.2,1215.3 L1179.2,1217.8 L1176.2,1220.4 L1173.3,1217.8 Z" transform="rotate(16 1176.2 1217.8)" fill="none" stroke-width="2"/>
<rect x="1188.0" y="1216.3" width="4.1" height="6.4" rx="1.7" transform="rotate(-23 1190.0 1219.5)" fill="#000" stroke="none"/>
<path d="M1206.3,1215.1 L1209.2,1217.6 L1206.3,1220.0 L1203.4,1217.6 Z" transform="rotate(-3 1206.3 1217.6)" fill="none" stroke-width="2"/>
<rect x="1219.3" y="1215.7" width="4.1" height="6.5" rx="1.7" transform="rotate(34 1221.3 1218.9)" fill="#000" stroke="none"/>
<rect x="1232.7" y="1218.3" width="4.2" height="6.0" rx="1.7" transform="rotate(-14 1234.8 1221.3)" fill="#000" stroke="none"/>
<rect x="1252.1" y="1215.9" width="4.0" height="4.8" rx="1.7" transform="rotate(-10 1254.1 1218.3)" fill="#000" stroke="none"/>
<rect x="1263.8" y="1217.3" width="4.4" height="6.5" rx="1.7" transform="rotate(-13 1266.0 1220.5)" fill="#000" stroke="none"/>
<rect x="1278.4" y="1213.6" width="4.3" height="6.1" rx="1.7" transform="rotate(-29 1280.5 1216.7)" fill="#000" stroke="none"/>
<path d="M1296.1,1216.4 L1299.4,1219.2 L1296.1,1222.0 L1292.8,1219.2 Z" transform="rotate(-17 1296.1 1219.2)" fill="none" stroke-width="2"/>
<rect x="1011.0" y="1231.5" width="3.7" height="5.7" rx="1.7" transform="rotate(26 1012.9 1234.3)" fill="#000" stroke="none"/>
<path d="M1025.3,1229.6 L1028.4,1232.3 L1025.3,1235.0 L1022.1,1232.3 Z" transform="rotate(2 1025.3 1232.3)" fill="none" stroke-width="2"/>
<rect x="1044.3" y="1227.2" width="3.7" height="6.5" rx="1.7" transform="rotate(8 1046.1 1230.5)" fill="#000" stroke="none"/>
<rect x="1054.3" y="1229.2" width="4.4" height="6.0" rx="1.7" transform="rotate(23 1056.5 1232.2)" fill="#000" stroke="none"/>
<path d="M1070.6,1228.7 L1074.0,1231.6 L1070.6,1234.4 L1067.3,1231.6 Z" transform="rotate(-10 1070.6 1231.6)" fill="none" stroke-width="2"/>
<rect x="1089.6" y="1228.1" width="4.2" height="4.9" rx="1.7" transform="rotate(-19 1091.7 1230.5)" fill="#000" stroke="none"/>
<circle cx="1105.8" cy="1229.2" r="2.3" fill="none" stroke-width="1.9"/>
<rect x="1114.5" y="1225.9" width="4.1" height="6.4" rx="1.7" transform="rotate(34 1116.5 1229.1)" fill="#000" stroke="none"/>
<rect x="1129.9" y="1226.9" width="3.7" height="5.3" rx="1.7" transform="rotate(14 1131.8 1229.5)" fill="#000" stroke="none"/>
<rect x="1150.2" y="1231.4" width="3.8" height="5.8" rx="1.7" transform="rotate(-2 1152.1 1234.3)" fill="#000" stroke="none"/>
<rect x="1163.2" y="1229.2" width="3.8" height="4.8" rx="1.7" transform="rotate(-15 1165.1 1231.6)" fill="#000" stroke="none"/>
<rect x="1178.1" y="1230.6" width="4.3" height="5.6" rx="1.7" transform="rotate(-27 1180.2 1233.5)" fill="#000" stroke="none"/>
<circle cx="1197.3" cy="1231.2" r="2.3" fill="none" stroke-width="1.9"/>
<rect x="1212.1" y="1231.4" width="3.9" height="5.7" rx="1.7" transform="rotate(-6 1214.0 1234.3)" fill="#000" stroke="none"/>
<rect x="1225.8" y="1230.4" width="4.4" height="5.2" rx="1.7" transform="rotate(20 1228.0 1233.0)" fill="#000" stroke="none"/>
<rect x="1237.9" y="1228.5" width="4.1" height="5.3" rx="1.7" transform="rotate(21 1239.9 1231.1)" fill="#000" stroke="none"/>
<path d="M1256.8,1232.9 L1260.0,1235.7 L1256.8,1238.4 L1253.6,1235.7 Z" transform="rotate(6 1256.8 1235.7)" fill="none" stroke-width="2"/>
<rect x="1274.5" y="1229.1" width="4.4" height="6.6" rx="1.7" transform="rotate(4 1276.7 1232.4)" fill="#000" stroke="none"/>
<rect x="1291.4" y="1232.5" width="4.5" height="5.8" rx="1.7" transform="rotate(-18 1293.6 1235.4)" fill="#000" stroke="none"/>
<circle cx="1305.9" cy="1231.2" r="2.5" fill="none" stroke-width="1.9"/>
<rect x="1015.9" y="1244.5" width="4.4" height="5.6" rx="1.7" transform="rotate(4 1018.1 1247.3)" fill="#000" stroke="none"/>
<rect x="1034.6" y="1243.7" width="4.0" height="6.4" rx="1.7" transform="rotate(-23 1036.6 1246.9)" fill="#000" stroke="none"/>
<rect x="1049.5" y="1241.0" width="3.8" height="5.8" rx="1.7" transform="rotate(3 1051.4 1243.9)" fill="#000" stroke="none"/>
<rect x="1064.7" y="1239.9" width="3.7" height="4.9" rx="1.7" transform="rotate(11 1066.6 1242.4)" fill="#000" stroke="none"/>
<path d="M1080.0,1246.7 L1083.1,1242.4 L1086.2,1246.7 Z" transform="rotate(21 1083.1 1244.9)" fill="#000" stroke="none"/>
<path d="M1097.6,1241.5 L1100.8,1244.3 L1097.6,1247.1 L1094.3,1244.3 Z" transform="rotate(8 1097.6 1244.3)" fill="none" stroke-width="2"/>
<path d="M1108.5,1240.0 L1111.4,1242.5 L1108.5,1245.0 L1105.5,1242.5 Z" transform="rotate(-13 1108.5 1242.5)" fill="none" stroke-width="2"/>
<rect x="1121.8" y="1240.9" width="3.8" height="5.3" rx="1.7" transform="rotate(32 1123.7 1243.5)" fill="#000" stroke="none"/>
<path d="M1145.6,1240.8 L1149.0,1243.7 L1145.6,1246.5 L1142.3,1243.7 Z" transform="rotate(4 1145.6 1243.7)" fill="none" stroke-width="2"/>
<rect x="1153.0" y="1243.7" width="3.8" height="6.1" rx="1.7" transform="rotate(23 1154.8 1246.7)" fill="#000" stroke="none"/>
<path d="M1168.2,1248.1 L1171.5,1243.5 L1174.8,1248.1 Z" transform="rotate(-91 1171.5 1246.2)" fill="#000" stroke="none"/>
<rect x="1191.0" y="1244.9" width="3.7" height="5.3" rx="1.7" transform="rotate(-22 1192.8 1247.6)" fill="#000" stroke="none"/>
<path d="M1204.1,1250.0 L1207.8,1244.9 L1211.4,1250.0 Z" transform="rotate(59 1207.8 1247.8)" fill="#000" stroke="none"/>
<rect x="1217.6" y="1245.2" width="4.0" height="5.5" rx="1.7" transform="rotate(-31 1219.6 1247.9)" fill="#000" stroke="none"/>
<rect x="1234.3" y="1239.9" width="3.9" height="5.4" rx="1.7" transform="rotate(34 1236.2 1242.6)" fill="#000" stroke="none"/>
<circle cx="1248.7" cy="1246.9" r="2.3" fill="none" stroke-width="1.9"/>
<rect x="1265.2" y="1245.3" width="3.7" height="6.1" rx="1.7" transform="rotate(-18 1267.0 1248.3)" fill="#000" stroke="none"/>
<rect x="1277.1" y="1246.0" width="4.0" height="6.3" rx="1.7" transform="rotate(-22 1279.1 1249.1)" fill="#000" stroke="none"/>
<path d="M1299.0,1245.8 L1301.8,1248.2 L1299.0,1250.6 L1296.1,1248.2 Z" transform="rotate(8 1299.0 1248.2)" fill="none" stroke-width="2"/>
<rect x="1021.2" y="1259.5" width="3.5" height="6.3" rx="1.7" transform="rotate(-29 1023.0 1262.7)" fill="#000" stroke="none"/>
<rect x="1041.2" y="1260.5" width="3.8" height="5.1" rx="1.7" transform="rotate(-27 1043.1 1263.0)" fill="#000" stroke="none"/>
<path d="M1054.6,1254.8 L1057.5,1257.3 L1054.6,1259.8 L1051.7,1257.3 Z" transform="rotate(-12 1054.6 1257.3)" fill="none" stroke-width="2"/>
<rect x="1071.5" y="1255.9" width="4.0" height="5.5" rx="1.7" transform="rotate(5 1073.5 1258.7)" fill="#000" stroke="none"/>
<rect x="1086.6" y="1253.6" width="3.8" height="4.8" rx="1.7" transform="rotate(-21 1088.5 1256.0)" fill="#000" stroke="none"/>
<rect x="1105.1" y="1257.9" width="4.4" height="5.0" rx="1.7" transform="rotate(3 1107.4 1260.4)" fill="#000" stroke="none"/>
<rect x="1116.6" y="1258.9" width="4.4" height="4.9" rx="1.7" transform="rotate(14 1118.8 1261.4)" fill="#000" stroke="none"/>
<path d="M1133.5,1255.3 L1136.7,1258.0 L1133.5,1260.8 L1130.3,1258.0 Z" transform="rotate(10 1133.5 1258.0)" fill="none" stroke-width="2"/>
<rect x="1152.0" y="1254.7" width="4.3" height="5.0" rx="1.7" transform="rotate(25 1154.1 1257.2)" fill="#000" stroke="none"/>
<circle cx="1170.1" cy="1261.6" r="2.3" fill="none" stroke-width="1.9"/>
<rect x="1183.2" y="1259.7" width="4.5" height="6.3" rx="1.7" transform="rotate(27 1185.4 1262.9)" fill="#000" stroke="none"/>
<rect x="1196.5" y="1260.9" width="4.1" height="5.0" rx="1.7" transform="rotate(-7 1198.5 1263.4)" fill="#000" stroke="none"/>
<path d="M1215.0,1253.6 L1218.0,1256.2 L1215.0,1258.7 L1212.0,1256.2 Z" transform="rotate(-8 1215.0 1256.2)" fill="none" stroke-width="2"/>
<rect x="1226.9" y="1254.6" width="4.5" height="5.3" rx="1.7" transform="rotate(25 1229.1 1257.2)" fill="#000" stroke="none"/>
<rect x="1240.8" y="1258.3" width="3.7" height="5.8" rx="1.7" transform="rotate(24 1242.7 1261.2)" fill="#000" stroke="none"/>
<rect x="1256.1" y="1253.1" width="3.8" height="5.3" rx="1.7" transform="rotate(-35 1258.0 1255.7)" fill="#000" stroke="none"/>
<rect x="1276.8" y="1258.0" width="3.7" height="5.7" rx="1.7" transform="rotate(15 1278.7 1260.8)" fill="#000" stroke="none"/>
<path d="M1288.7,1264.5 L1292.0,1259.9 L1295.3,1264.5 Z" transform="rotate(-28 1292.0 1262.5)" fill="#000" stroke="none"/>
<path d="M1304.9,1255.5 L1308.1,1258.2 L1304.9,1260.9 L1301.7,1258.2 Z" transform="rotate(-1 1304.9 1258.2)" fill="none" stroke-width="2"/>
<rect x="1018.1" y="1267.4" width="3.7" height="6.1" rx="1.7" transform="rotate(-6 1019.9 1270.5)" fill="#000" stroke="none"/>
<path d="M1032.0,1276.4 L1035.1,1272.1 L1038.2,1276.4 Z" transform="rotate(-155 1035.1 1274.6)" fill="#000" stroke="none"/>
<path d="M1046.3,1270.2 L1049.4,1272.9 L1046.3,1275.5 L1043.2,1272.9 Z" transform="rotate(6 1046.3 1272.9)" fill="none" stroke-width="2"/>
<rect x="1066.6" y="1269.6" width="3.5" height="5.2" rx="1.7" transform="rotate(10 1068.3 1272.2)" fill="#000" stroke="none"/>
<rect x="1075.4" y="1267.5" width="3.6" height="5.9" rx="1.7" transform="rotate(2 1077.2 1270.5)" fill="#000" stroke="none"/>
<rect x="1097.0" y="1268.7" width="4.2" height="6.4" rx="1.7" transform="rotate(12 1099.1 1271.9)" fill="#000" stroke="none"/>
<circle cx="1112.4" cy="1273.8" r="2.5" fill="none" stroke-width="1.9"/>
<path d="M1125.8,1273.0 L1128.6,1275.4 L1125.8,1277.8 L1123.0,1275.4 Z" transform="rotate(-1 1125.8 1275.4)" fill="none" stroke-width="2"/>
<rect x="1140.8" y="1268.8" width="4.0" height="4.9" rx="1.7" transform="rotate(1 1142.8 1271.3)" fill="#000" stroke="none"/>
<path d="M1155.6,1271.3 L1158.8,1274.0 L1155.6,1276.8 L1152.3,1274.0 Z" transform="rotate(17 1155.6 1274.0)" fill="none" stroke-width="2"/>
<rect x="1170.4" y="1269.6" width="3.9" height="6.5" rx="1.7" transform="rotate(21 1172.3 1272.8)" fill="#000" stroke="none"/>
<rect x="1187.1" y="1269.9" width="4.5" height="4.9" rx="1.7" transform="rotate(-10 1189.4 1272.4)" fill="#000" stroke="none"/>
<path d="M1204.2,1267.4 L1207.1,1269.8 L1204.2,1272.3 L1201.3,1269.8 Z" transform="rotate(-12 1204.2 1269.8)" fill="none" stroke-width="2"/>
<path d="M1219.9,1271.5 L1222.9,1274.0 L1219.9,1276.5 L1216.9,1274.0 Z" transform="rotate(-2 1219.9 1274.0)" fill="none" stroke-width="2"/>
<rect x="1232.8" y="1273.5" width="4.4" height="5.7" rx="1.7" transform="rotate(-34 1234.9 1276.3)" fill="#000" stroke="none"/>
<circle cx="1248.6" cy="1270.3" r="2.0" fill="none" stroke-width="1.9"/>
<rect x="1266.6" y="1267.6" width="3.6" height="6.5" rx="1.7" transform="rotate(7 1268.4 1270.9)" fill="#000" stroke="none"/>
<path d="M1281.2,1267.9 L1284.0,1270.3 L1281.2,1272.7 L1278.4,1270.3 Z" transform="rotate(-14 1281.2 1270.3)" fill="none" stroke-width="2"/>
<circle cx="1299.2" cy="1272.9" r="2.1" fill="none" stroke-width="1.9"/>
<rect x="1307.7" y="1271.4" width="4.4" height="5.2" rx="1.7" transform="rotate(-14 1309.9 1274.0)" fill="#000" stroke="none"/>
<path d="M1008.8,1285.4 L1012.4,1280.4 L1016.0,1285.4 Z" transform="rotate(157 1012.4 1283.3)" fill="#000" stroke="none"/>
<circle cx="1025.3" cy="1288.5" r="2.0" fill="none" stroke-width="1.9"/>
<rect x="1040.1" y="1281.2" width="4.4" height="5.2" rx="1.7" transform="rotate(32 1042.3 1283.8)" fill="#000" stroke="none"/>
<rect x="1056.0" y="1282.5" width="4.3" height="5.4" rx="1.7" transform="rotate(17 1058.2 1285.2)" fill="#000" stroke="none"/>
<path d="M1072.6,1285.8 L1075.5,1288.2 L1072.6,1290.7 L1069.7,1288.2 Z" transform="rotate(-1 1072.6 1288.2)" fill="none" stroke-width="2"/>
<path d="M1085.5,1281.3 L1088.7,1284.0 L1085.5,1286.7 L1082.3,1284.0 Z" transform="rotate(-0 1085.5 1284.0)" fill="none" stroke-width="2"/>
<rect x="1101.1" y="1283.1" width="4.1" height="5.0" rx="1.7" transform="rotate(33 1103.2 1285.6)" fill="#000" stroke="none"/>
<rect x="1119.3" y="1284.3" width="4.1" height="6.4" rx="1.7" transform="rotate(19 1121.4 1287.4)" fill="#000" stroke="none"/>
<path d="M1139.0,1283.3 L1142.1,1285.9 L1139.0,1288.5 L1136.0,1285.9 Z" transform="rotate(-4 1139.0 1285.9)" fill="none" stroke-width="2"/>
<rect x="1147.5" y="1284.7" width="4.3" height="6.2" rx="1.7" transform="rotate(-10 1149.7 1287.8)" fill="#000" stroke="none"/>
<rect x="1165.8" y="1286.7" width="3.8" height="5.4" rx="1.7" transform="rotate(10 1167.7 1289.4)" fill="#000" stroke="none"/>
<path d="M1175.2,1291.1 L1178.6,1286.4 L1181.9,1291.1 Z" transform="rotate(-69 1178.6 1289.1)" fill="#000" stroke="none"/>
<path d="M1194.2,1281.4 L1197.0,1283.8 L1194.2,1286.2 L1191.3,1283.8 Z" transform="rotate(14 1194.2 1283.8)" fill="none" stroke-width="2"/>
<rect x="1208.9" y="1285.9" width="3.9" height="5.7" rx="1.7" transform="rotate(26 1210.8 1288.7)" fill="#000" stroke="none"/>
<rect x="1223.7" y="1282.6" width="4.2" height="4.9" rx="1.7" transform="rotate(-16 1225.9 1285.0)" fill="#000" stroke="none"/>
<rect x="1243.1" y="1286.6" width="3.6" height="4.9" rx="1.7" transform="rotate(-22 1244.9 1289.1)" fill="#000" stroke="none"/>
<rect x="1259.5" y="1284.8" width="4.1" height="5.4" rx="1.7" transform="rotate(-3 1261.6 1287.5)" fill="#000" stroke="none"/>
<rect x="1269.1" y="1282.8" width="3.9" height="6.5" rx="1.7" transform="rotate(33 1271.0 1286.0)" fill="#000" stroke="none"/>
<rect x="1291.4" y="1284.4" width="3.6" height="5.8" rx="1.7" transform="rotate(22 1293.2 1287.3)" fill="#000" stroke="none"/>
<rect x="1300.3" y="1280.5" width="4.5" height="5.8" rx="1.7" transform="rotate(-24 1302.5 1283.4)" fill="#000" stroke="none"/>
<path d="M1018.8,1299.7 L1021.9,1302.4 L1018.8,1305.0 L1015.7,1302.4 Z" transform="rotate(-12 1018.8 1302.4)" fill="none" stroke-width="2"/>
<path d="M1033.8,1297.6 L1036.9,1300.3 L1033.8,1302.9 L1030.7,1300.3 Z" transform="rotate(7 1033.8 1300.3)" fill="none" stroke-width="2"/>
<rect x="1050.5" y="1300.2" width="3.5" height="5.1" rx="1.7" transform="rotate(-25 1052.3 1302.8)" fill="#000" stroke="none"/>
<rect x="1067.1" y="1296.0" width="4.1" height="5.3" rx="1.7" transform="rotate(-2 1069.2 1298.6)" fill="#000" stroke="none"/>
<circle cx="1083.2" cy="1298.8" r="2.0" fill="none" stroke-width="1.9"/>
<circle cx="1096.9" cy="1296.9" r="2.1" fill="none" stroke-width="1.9"/>
<path d="M1114.2,1298.2 L1117.3,1300.9 L1114.2,1303.5 L1111.0,1300.9 Z" transform="rotate(-3 1114.2 1300.9)" fill="none" stroke-width="2"/>
<rect x="1123.3" y="1297.3" width="3.6" height="5.0" rx="1.7" transform="rotate(12 1125.1 1299.8)" fill="#000" stroke="none"/>
<rect x="1138.3" y="1297.3" width="4.5" height="6.3" rx="1.7" transform="rotate(-35 1140.6 1300.4)" fill="#000" stroke="none"/>
<path d="M1157.5,1294.9 L1160.4,1297.4 L1157.5,1299.9 L1154.6,1297.4 Z" transform="rotate(17 1157.5 1297.4)" fill="none" stroke-width="2"/>
<path d="M1172.9,1304.6 L1176.0,1300.2 L1179.2,1304.6 Z" transform="rotate(-102 1176.0 1302.7)" fill="#000" stroke="none"/>
<circle cx="1186.8" cy="1298.0" r="2.2" fill="none" stroke-width="1.9"/>
<rect x="1199.9" y="1295.9" width="4.2" height="6.2" rx="1.7" transform="rotate(10 1202.0 1299.0)" fill="#000" stroke="none"/>
<rect x="1218.0" y="1296.8" width="4.0" height="6.0" rx="1.7" transform="rotate(-9 1220.0 1299.8)" fill="#000" stroke="none"/>
<rect x="1235.9" y="1296.0" width="3.5" height="5.5" rx="1.7" transform="rotate(-25 1237.7 1298.8)" fill="#000" stroke="none"/>
<rect x="1248.2" y="1293.3" width="4.4" height="6.3" rx="1.7" transform="rotate(-5 1250.4 1296.4)" fill="#000" stroke="none"/>
<rect x="1261.4" y="1295.8" width="3.6" height="5.9" rx="1.7" transform="rotate(-13 1263.2 1298.7)" fill="#000" stroke="none"/>
<rect x="1283.5" y="1296.1" width="3.5" height="6.2" rx="1.7" transform="rotate(-28 1285.2 1299.2)" fill="#000" stroke="none"/>
<path d="M1295.8,1299.5 L1298.8,1301.9 L1295.8,1304.4 L1292.9,1301.9 Z" transform="rotate(-15 1295.8 1301.9)" fill="none" stroke-width="2"/>
<path d="M1312.0,1299.7 L1315.1,1302.3 L1312.0,1304.9 L1309.0,1302.3 Z" transform="rotate(-7 1312.0 1302.3)" fill="none" stroke-width="2"/>
<path d="M1029.1,1309.0 L1032.3,1311.7 L1029.1,1314.4 L1025.9,1311.7 Z" transform="rotate(15 1029.1 1311.7)" fill="none" stroke-width="2"/>
<rect x="1044.1" y="1314.0" width="3.7" height="6.2" rx="1.7" transform="rotate(34 1045.9 1317.1)" fill="#000" stroke="none"/>
<rect x="1052.6" y="1309.5" width="4.2" height="5.2" rx="1.7" transform="rotate(24 1054.7 1312.1)" fill="#000" stroke="none"/>
<rect x="1074.5" y="1313.9" width="3.8" height="5.3" rx="1.7" transform="rotate(-31 1076.4 1316.6)" fill="#000" stroke="none"/>
<rect x="1086.3" y="1314.6" width="3.6" height="5.2" rx="1.7" transform="rotate(22 1088.1 1317.2)" fill="#000" stroke="none"/>
<rect x="1104.3" y="1309.6" width="3.6" height="5.5" rx="1.7" transform="rotate(-31 1106.1 1312.4)" fill="#000" stroke="none"/>
<rect x="1118.4" y="1309.8" width="3.5" height="6.0" rx="1.7" transform="rotate(-15 1120.1 1312.8)" fill="#000" stroke="none"/>
<rect x="1132.2" y="1310.9" width="3.6" height="5.3" rx="1.7" transform="rotate(-16 1133.9 1313.6)" fill="#000" stroke="none"/>
<rect x="1147.4" y="1307.4" width="3.5" height="6.4" rx="1.7" transform="rotate(-1 1149.1 1310.6)" fill="#000" stroke="none"/>
<rect x="1163.3" y="1310.1" width="3.6" height="6.2" rx="1.7" transform="rotate(-33 1165.1 1313.2)" fill="#000" stroke="none"/>
<rect x="1180.2" y="1310.5" width="4.0" height="6.2" rx="1.7" transform="rotate(18 1182.2 1313.6)" fill="#000" stroke="none"/>
<path d="M1199.9,1314.2 L1203.0,1316.8 L1199.9,1319.4 L1196.9,1316.8 Z" transform="rotate(6 1199.9 1316.8)" fill="none" stroke-width="2"/>
<rect x="1210.8" y="1311.8" width="4.4" height="4.9" rx="1.7" transform="rotate(22 1213.0 1314.3)" fill="#000" stroke="none"/>
<rect x="1228.5" y="1311.7" width="3.5" height="5.7" rx="1.7" transform="rotate(29 1230.3 1314.6)" fill="#000" stroke="none"/>
<rect x="1240.9" y="1314.1" width="3.6" height="6.2" rx="1.7" transform="rotate(4 1242.8 1317.2)" fill="#000" stroke="none"/>
<rect x="1257.4" y="1312.9" width="3.5" height="5.2" rx="1.7" transform="rotate(27 1259.2 1315.5)" fill="#000" stroke="none"/>
<path d="M1276.6,1314.2 L1279.5,1316.7 L1276.6,1319.1 L1273.8,1316.7 Z" transform="rotate(-8 1276.6 1316.7)" fill="none" stroke-width="2"/>
<rect x="1289.9" y="1313.1" width="4.0" height="4.9" rx="1.7" transform="rotate(30 1291.9 1315.5)" fill="#000" stroke="none"/>
<rect x="1303.4" y="1309.8" width="4.4" height="5.0" rx="1.7" transform="rotate(27 1305.6 1312.3)" fill="#000" stroke="none"/>
<rect x="1032.1" y="1323.4" width="4.4" height="6.4" rx="1.7" transform="rotate(31 1034.3 1326.6)" fill="#000" stroke="none"/>
<rect x="1050.6" y="1322.0" width="4.1" height="5.9" rx="1.7" transform="rotate(-3 1052.6 1324.9)" fill="#000" stroke="none"/>
<rect x="1062.5" y="1328.5" width="3.6" height="5.2" rx="1.7" transform="rotate(-34 1064.3 1331.1)" fill="#000" stroke="none"/>
<rect x="1081.0" y="1326.7" width="3.7" height="6.2" rx="1.7" transform="rotate(-18 1082.8 1329.8)" fill="#000" stroke="none"/>
<rect x="1097.4" y="1322.2" width="4.5" height="6.1" rx="1.7" transform="rotate(33 1099.7 1325.2)" fill="#000" stroke="none"/>
<path d="M1111.8,1326.6 L1114.7,1329.1 L1111.8,1331.6 L1108.8,1329.1 Z" transform="rotate(0 1111.8 1329.1)" fill="none" stroke-width="2"/>
<rect x="1125.9" y="1325.1" width="3.6" height="6.5" rx="1.7" transform="rotate(10 1127.7 1328.4)" fill="#000" stroke="none"/>
<path d="M1136.8,1327.3 L1140.7,1321.8 L1144.6,1327.3 Z" transform="rotate(158 1140.7 1324.9)" fill="#000" stroke="none"/>
<path d="M1161.2,1327.5 L1164.1,1329.9 L1161.2,1332.3 L1158.4,1329.9 Z" transform="rotate(2 1161.2 1329.9)" fill="none" stroke-width="2"/>
<path d="M1175.9,1327.4 L1178.7,1329.8 L1175.9,1332.2 L1173.0,1329.8 Z" transform="rotate(-16 1175.9 1329.8)" fill="none" stroke-width="2"/>
<circle cx="1191.3" cy="1327.0" r="2.2" fill="none" stroke-width="1.9"/>
<path d="M1206.4,1325.7 L1209.6,1328.4 L1206.4,1331.1 L1203.2,1328.4 Z" transform="rotate(-5 1206.4 1328.4)" fill="none" stroke-width="2"/>
<path d="M1217.0,1327.7 L1220.1,1330.3 L1217.0,1332.9 L1214.0,1330.3 Z" transform="rotate(11 1217.0 1330.3)" fill="none" stroke-width="2"/>
<path d="M1233.6,1324.3 L1236.5,1326.7 L1233.6,1329.2 L1230.8,1326.7 Z" transform="rotate(2 1233.6 1326.7)" fill="none" stroke-width="2"/>
<rect x="1245.7" y="1323.5" width="3.7" height="5.5" rx="1.7" transform="rotate(-19 1247.5 1326.3)" fill="#000" stroke="none"/>
<path d="M1268.6,1327.6 L1271.9,1330.4 L1268.6,1333.2 L1265.2,1330.4 Z" transform="rotate(-17 1268.6 1330.4)" fill="none" stroke-width="2"/>
<rect x="1281.5" y="1326.5" width="3.8" height="4.9" rx="1.7" transform="rotate(-10 1283.4 1329.0)" fill="#000" stroke="none"/>
<path d="M1299.3,1320.8 L1302.5,1323.6 L1299.3,1326.3 L1296.1,1323.6 Z" transform="rotate(14 1299.3 1323.6)" fill="none" stroke-width="2"/>
<rect x="1028.6" y="1337.1" width="4.1" height="6.4" rx="1.7" transform="rotate(8 1030.7 1340.3)" fill="#000" stroke="none"/>
<rect x="1041.1" y="1336.2" width="4.1" height="6.6" rx="1.7" transform="rotate(23 1043.1 1339.5)" fill="#000" stroke="none"/>
<path d="M1058.5,1340.8 L1061.6,1343.4 L1058.5,1346.0 L1055.4,1343.4 Z" transform="rotate(17 1058.5 1343.4)" fill="none" stroke-width="2"/>
<rect x="1074.5" y="1336.5" width="3.9" height="6.6" rx="1.7" transform="rotate(-12 1076.4 1339.8)" fill="#000" stroke="none"/>
<path d="M1087.9,1336.3 L1090.9,1338.8 L1087.9,1341.3 L1084.9,1338.8 Z" transform="rotate(-14 1087.9 1338.8)" fill="none" stroke-width="2"/>
<rect x="1101.3" y="1334.9" width="4.3" height="5.4" rx="1.7" transform="rotate(-5 1103.4 1337.6)" fill="#000" stroke="none"/>
<rect x="1121.8" y="1335.5" width="3.5" height="5.3" rx="1.7" transform="rotate(-19 1123.6 1338.2)" fill="#000" stroke="none"/>
<rect x="1136.5" y="1336.1" width="3.8" height="5.8" rx="1.7" transform="rotate(2 1138.4 1338.9)" fill="#000" stroke="none"/>
<rect x="1145.1" y="1336.4" width="4.3" height="6.1" rx="1.7" transform="rotate(22 1147.3 1339.4)" fill="#000" stroke="none"/>
<path d="M1167.0,1341.1 L1169.9,1343.5 L1167.0,1346.0 L1164.1,1343.5 Z" transform="rotate(-16 1167.0 1343.5)" fill="none" stroke-width="2"/>
<path d="M1180.6,1345.2 L1183.7,1340.8 L1186.9,1345.2 Z" transform="rotate(96 1183.7 1343.3)" fill="#000" stroke="none"/>
<rect x="1195.6" y="1338.7" width="4.5" height="5.7" rx="1.7" transform="rotate(-26 1197.8 1341.6)" fill="#000" stroke="none"/>
<rect x="1208.8" y="1341.8" width="4.2" height="5.3" rx="1.7" transform="rotate(-30 1210.9 1344.5)" fill="#000" stroke="none"/>
<rect x="1223.9" y="1335.8" width="4.2" height="6.4" rx="1.7" transform="rotate(-13 1226.0 1339.0)" fill="#000" stroke="none"/>
<path d="M1243.9,1346.0 L1247.7,1340.7 L1251.5,1346.0 Z" transform="rotate(-86 1247.7 1343.7)" fill="#000" stroke="none"/>
<rect x="1253.7" y="1338.7" width="4.4" height="5.0" rx="1.7" transform="rotate(-28 1256.0 1341.3)" fill="#000" stroke="none"/>
<rect x="1274.7" y="1337.6" width="3.6" height="6.4" rx="1.7" transform="rotate(21 1276.5 1340.8)" fill="#000" stroke="none"/>
<rect x="1290.7" y="1338.1" width="4.2" height="4.9" rx="1.7" transform="rotate(-33 1292.8 1340.6)" fill="#000" stroke="none"/>
<rect x="1048.3" y="1349.2" width="3.8" height="6.2" rx="1.7" transform="rotate(27 1050.2 1352.3)" fill="#000" stroke="none"/>
<rect x="1062.3" y="1348.3" width="4.3" height="6.6" rx="1.7" transform="rotate(32 1064.4 1351.6)" fill="#000" stroke="none"/>
<rect x="1079.7" y="1347.6" width="4.1" height="5.9" rx="1.7" transform="rotate(-32 1081.7 1350.6)" fill="#000" stroke="none"/>
<rect x="1098.3" y="1350.0" width="3.6" height="4.9" rx="1.7" transform="rotate(-20 1100.1 1352.5)" fill="#000" stroke="none"/>
<rect x="1110.0" y="1350.3" width="3.8" height="6.3" rx="1.7" transform="rotate(32 1111.9 1353.4)" fill="#000" stroke="none"/>
<rect x="1125.6" y="1348.5" width="4.4" height="4.9" rx="1.7" transform="rotate(8 1127.8 1350.9)" fill="#000" stroke="none"/>
<path d="M1144.6,1349.2 L1147.9,1351.9 L1144.6,1354.7 L1141.4,1351.9 Z" transform="rotate(12 1144.6 1351.9)" fill="none" stroke-width="2"/>
<path d="M1152.5,1353.7 L1156.5,1348.2 L1160.4,1353.7 Z" transform="rotate(145 1156.5 1351.3)" fill="#000" stroke="none"/>
<rect x="1172.5" y="1347.8" width="3.6" height="5.3" rx="1.7" transform="rotate(29 1174.3 1350.5)" fill="#000" stroke="none"/>
<rect x="1183.9" y="1354.5" width="3.9" height="5.2" rx="1.7" transform="rotate(-29 1185.8 1357.1)" fill="#000" stroke="none"/>
<path d="M1204.5,1352.4 L1207.6,1355.0 L1204.5,1357.7 L1201.3,1355.0 Z" transform="rotate(-14 1204.5 1355.0)" fill="none" stroke-width="2"/>
<path d="M1216.9,1350.8 L1220.2,1353.6 L1216.9,1356.4 L1213.7,1353.6 Z" transform="rotate(-8 1216.9 1353.6)" fill="none" stroke-width="2"/>
<path d="M1234.0,1350.6 L1237.1,1353.2 L1234.0,1355.9 L1230.8,1353.2 Z" transform="rotate(-17 1234.0 1353.2)" fill="none" stroke-width="2"/>
<path d="M1248.6,1357.7 L1251.8,1353.2 L1255.0,1357.7 Z" transform="rotate(68 1251.8 1355.8)" fill="#000" stroke="none"/>
<rect x="1262.8" y="1350.9" width="3.6" height="6.0" rx="1.7" transform="rotate(4 1264.6 1353.9)" fill="#000" stroke="none"/>
<rect x="1279.7" y="1347.3" width="4.3" height="6.4" rx="1.7" transform="rotate(30 1281.8 1350.5)" fill="#000" stroke="none"/>
<rect x="1056.8" y="1364.9" width="3.6" height="5.0" rx="1.7" transform="rotate(10 1058.6 1367.4)" fill="#000" stroke="none"/>
<path d="M1074.0,1366.3 L1076.9,1368.7 L1074.0,1371.2 L1071.1,1368.7 Z" transform="rotate(11 1074.0 1368.7)" fill="none" stroke-width="2"/>
<rect x="1085.0" y="1361.7" width="4.4" height="6.0" rx="1.7" transform="rotate(-33 1087.2 1364.7)" fill="#000" stroke="none"/>
<circle cx="1106.7" cy="1367.5" r="2.4" fill="none" stroke-width="1.9"/>
<rect x="1120.1" y="1362.5" width="4.3" height="5.7" rx="1.7" transform="rotate(-31 1122.2 1365.3)" fill="#000" stroke="none"/>
<rect x="1136.9" y="1362.8" width="4.5" height="6.2" rx="1.7" transform="rotate(26 1139.1 1365.9)" fill="#000" stroke="none"/>
<rect x="1152.0" y="1368.0" width="3.6" height="6.0" rx="1.7" transform="rotate(8 1153.8 1371.0)" fill="#000" stroke="none"/>
<rect x="1168.1" y="1364.8" width="3.6" height="5.6" rx="1.7" transform="rotate(5 1169.9 1367.6)" fill="#000" stroke="none"/>
<path d="M1178.4,1364.1 L1181.7,1366.9 L1178.4,1369.7 L1175.1,1366.9 Z" transform="rotate(8 1178.4 1366.9)" fill="none" stroke-width="2"/>
<rect x="1194.9" y="1364.3" width="4.1" height="5.5" rx="1.7" transform="rotate(20 1196.9 1367.1)" fill="#000" stroke="none"/>
<rect x="1208.1" y="1364.5" width="3.6" height="5.6" rx="1.7" transform="rotate(-27 1209.9 1367.2)" fill="#000" stroke="none"/>
<rect x="1223.3" y="1367.6" width="4.1" height="5.1" rx="1.7" transform="rotate(26 1225.3 1370.2)" fill="#000" stroke="none"/>
<rect x="1239.9" y="1367.8" width="4.1" height="4.9" rx="1.7" transform="rotate(10 1242.0 1370.3)" fill="#000" stroke="none"/>
<circle cx="1256.8" cy="1367.0" r="2.3" fill="none" stroke-width="1.9"/>
<rect x="1270.6" y="1361.4" width="4.4" height="5.2" rx="1.7" transform="rotate(-6 1272.8 1363.9)" fill="#000" stroke="none"/>
<path d="M1079.1,1381.5 L1082.1,1384.0 L1079.1,1386.6 L1076.1,1384.0 Z" transform="rotate(14 1079.1 1384.0)" fill="none" stroke-width="2"/>
<rect x="1098.2" y="1379.2" width="3.8" height="5.0" rx="1.7" transform="rotate(10 1100.1 1381.7)" fill="#000" stroke="none"/>
<rect x="1106.2" y="1379.4" width="4.3" height="5.1" rx="1.7" transform="rotate(-28 1108.3 1381.9)" fill="#000" stroke="none"/>
<rect x="1127.4" y="1376.1" width="4.3" height="6.3" rx="1.7" transform="rotate(30 1129.5 1379.2)" fill="#000" stroke="none"/>
<path d="M1143.3,1384.0 L1146.8,1379.0 L1150.4,1384.0 Z" transform="rotate(43 1146.8 1381.9)" fill="#000" stroke="none"/>
<rect x="1155.0" y="1376.9" width="4.1" height="6.4" rx="1.7" transform="rotate(-18 1157.1 1380.1)" fill="#000" stroke="none"/>
<rect x="1173.8" y="1375.7" width="3.9" height="6.3" rx="1.7" transform="rotate(-9 1175.8 1378.9)" fill="#000" stroke="none"/>
<rect x="1187.8" y="1378.3" width="4.2" height="5.8" rx="1.7" transform="rotate(4 1189.9 1381.2)" fill="#000" stroke="none"/>
<rect x="1203.2" y="1375.7" width="4.4" height="6.5" rx="1.7" transform="rotate(-4 1205.4 1378.9)" fill="#000" stroke="none"/>
<rect x="1217.0" y="1378.5" width="3.7" height="6.2" rx="1.7" transform="rotate(-3 1218.8 1381.7)" fill="#000" stroke="none"/>
<rect x="1230.8" y="1376.4" width="3.7" height="4.9" rx="1.7" transform="rotate(-21 1232.7 1378.9)" fill="#000" stroke="none"/>
<path d="M1251.7,1375.7 L1254.9,1378.4 L1251.7,1381.1 L1248.5,1378.4 Z" transform="rotate(4 1251.7 1378.4)" fill="none" stroke-width="2"/>
<rect x="1090.3" y="1395.7" width="4.1" height="5.5" rx="1.7" transform="rotate(35 1092.4 1398.4)" fill="#000" stroke="none"/>
<rect x="1098.9" y="1387.6" width="4.1" height="6.2" rx="1.7" transform="rotate(15 1100.9 1390.7)" fill="#000" stroke="none"/>
<rect x="1117.2" y="1393.5" width="4.0" height="6.0" rx="1.7" transform="rotate(9 1119.2 1396.5)" fill="#000" stroke="none"/>
<path d="M1135.7,1388.7 L1138.8,1391.3 L1135.7,1393.9 L1132.7,1391.3 Z" transform="rotate(7 1135.7 1391.3)" fill="none" stroke-width="2"/>
<rect x="1152.6" y="1391.8" width="3.9" height="5.1" rx="1.7" transform="rotate(1 1154.5 1394.4)" fill="#000" stroke="none"/>
<path d="M1169.4,1389.3 L1172.5,1392.0 L1169.4,1394.6 L1166.2,1392.0 Z" transform="rotate(-12 1169.4 1392.0)" fill="none" stroke-width="2"/>
<circle cx="1185.7" cy="1391.3" r="2.5" fill="none" stroke-width="1.9"/>
<path d="M1200.5,1391.7 L1203.4,1394.1 L1200.5,1396.6 L1197.6,1394.1 Z" transform="rotate(-1 1200.5 1394.1)" fill="none" stroke-width="2"/>
<circle cx="1211.6" cy="1394.1" r="2.3" fill="none" stroke-width="1.9"/>
<path d="M1228.0,1392.4 L1231.0,1395.0 L1228.0,1397.5 L1225.0,1395.0 Z" transform="rotate(3 1228.0 1395.0)" fill="none" stroke-width="2"/>
<circle cx="1113.5" cy="1406.1" r="2.4" fill="none" stroke-width="1.9"/>
<rect x="1125.0" y="1404.3" width="4.0" height="5.8" rx="1.7" transform="rotate(2 1127.0 1407.2)" fill="#000" stroke="none"/>
<rect x="1144.8" y="1407.5" width="3.5" height="4.9" rx="1.7" transform="rotate(34 1146.6 1410.0)" fill="#000" stroke="none"/>
<rect x="1159.1" y="1403.1" width="4.0" height="6.3" rx="1.7" transform="rotate(-23 1161.0 1406.2)" fill="#000" stroke="none"/>
<rect x="1168.3" y="1402.5" width="3.8" height="5.7" rx="1.7" transform="rotate(-31 1170.2 1405.4)" fill="#000" stroke="none"/>
<circle cx="1193.2" cy="1409.2" r="2.5" fill="none" stroke-width="1.9"/>
<rect x="1204.6" y="1402.7" width="3.6" height="6.5" rx="1.7" transform="rotate(-1 1206.4 1405.9)" fill="#000" stroke="none"/>
<rect x="1218.5" y="1402.7" width="3.8" height="5.9" rx="1.7" transform="rotate(21 1220.4 1405.6)" fill="#000" stroke="none"/>
<rect x="314" y="1054.3" width="46" height="49.5" stroke-width="2.4" fill="#fff"/>
<rect x="329.6" y="1039" width="16.4" height="11" stroke-width="2.4" fill="#fff"/>
<rect x="1140" y="1054.3" width="46" height="49.5" stroke-width="2.4" fill="#fff"/>
<rect x="1154" y="1039" width="16.4" height="11" stroke-width="2.4" fill="#fff"/>
<line x1="190" y1="1289" x2="649.5" y2="1289" stroke-width="2.0"/>
<line x1="849" y1="1289" x2="1310" y2="1289" stroke-width="2.0"/>
<polygon points="185.0,1287.8 196.0,1286.8 197.0,1285.0 209.0,1284.8 210.0,1282.0 220.0,1282.0 220.5,1287.5 220.5,1290.5 220.0,1296.0 210.0,1296.0 209.0,1293.2 197.0,1293.0 196.0,1291.2 185.0,1290.2" fill="#000" stroke="none"/>
<polygon points="1315.0,1290.2 1304.0,1291.2 1303.0,1293.0 1291.0,1293.2 1290.0,1296.0 1280.0,1296.0 1279.5,1290.5 1279.5,1287.5 1280.0,1282.0 1290.0,1282.0 1291.0,1284.8 1303.0,1285.0 1304.0,1286.8 1315.0,1287.8" fill="#000" stroke="none"/>
<line x1="565" y1="506" x2="565" y2="861" stroke-width="2.0"/>
<line x1="565" y1="1063" x2="565" y2="1416" stroke-width="2.0"/>
<polygon points="566.2,503.0 567.2,514.0 569.0,515.0 569.2,527.0 571.5,528.0 571.5,538.0 566.5,538.5 563.5,538.5 558.5,538.0 558.5,528.0 560.8,527.0 561.0,515.0 562.8,514.0 563.8,503.0" fill="#000" stroke="none"/>
<polygon points="563.8,1419.0 562.8,1408.0 561.0,1407.0 560.8,1395.0 558.5,1394.0 558.5,1384.0 563.5,1383.5 566.5,1383.5 571.5,1384.0 571.5,1394.0 569.2,1395.0 569.0,1407.0 567.2,1408.0 566.2,1419.0" fill="#000" stroke="none"/>
<line x1="321" y1="1425.3" x2="566" y2="1425.3" stroke-width="2.0"/>
<line x1="984.5" y1="154" x2="984.5" y2="397" stroke-width="2.0"/>
<line x1="984.5" y1="731.6" x2="984.5" y2="1414" stroke-width="2.0"/>
<polygon points="985.7,151.0 986.7,162.0 988.5,163.0 988.7,175.0 991.0,176.0 991.0,186.0 986.0,186.5 983.0,186.5 978.0,186.0 978.0,176.0 980.3,175.0 980.5,163.0 982.3,162.0 983.3,151.0" fill="#000" stroke="none"/>
<polygon points="983.3,1418.0 982.3,1407.0 980.5,1406.0 980.3,1394.0 978.0,1393.0 978.0,1383.0 983.0,1382.5 986.0,1382.5 991.0,1383.0 991.0,1393.0 988.7,1394.0 988.5,1406.0 986.7,1407.0 985.7,1418.0" fill="#000" stroke="none"/>
<line x1="983.5" y1="1424.5" x2="1178" y2="1424.5" stroke-width="2.0"/>
<text x="744" y="106" text-anchor="middle">Ø150mm</text>
<text x="567" y="202" text-anchor="middle" transform="rotate(-90 567 202)">20mm</text>
<text x="747" y="1303" text-anchor="middle">703mm</text>
<text x="577" y="960.6" text-anchor="middle" transform="rotate(-90 577 960.6)">571mm</text>
<text x="972" y="563" text-anchor="middle" transform="rotate(-90 972 563)">Min: 702mm</text>
<text x="1026" y="564.5" text-anchor="middle" transform="rotate(-90 1026 564.5)">Max: 1606mm</text>
</svg></body></html>
